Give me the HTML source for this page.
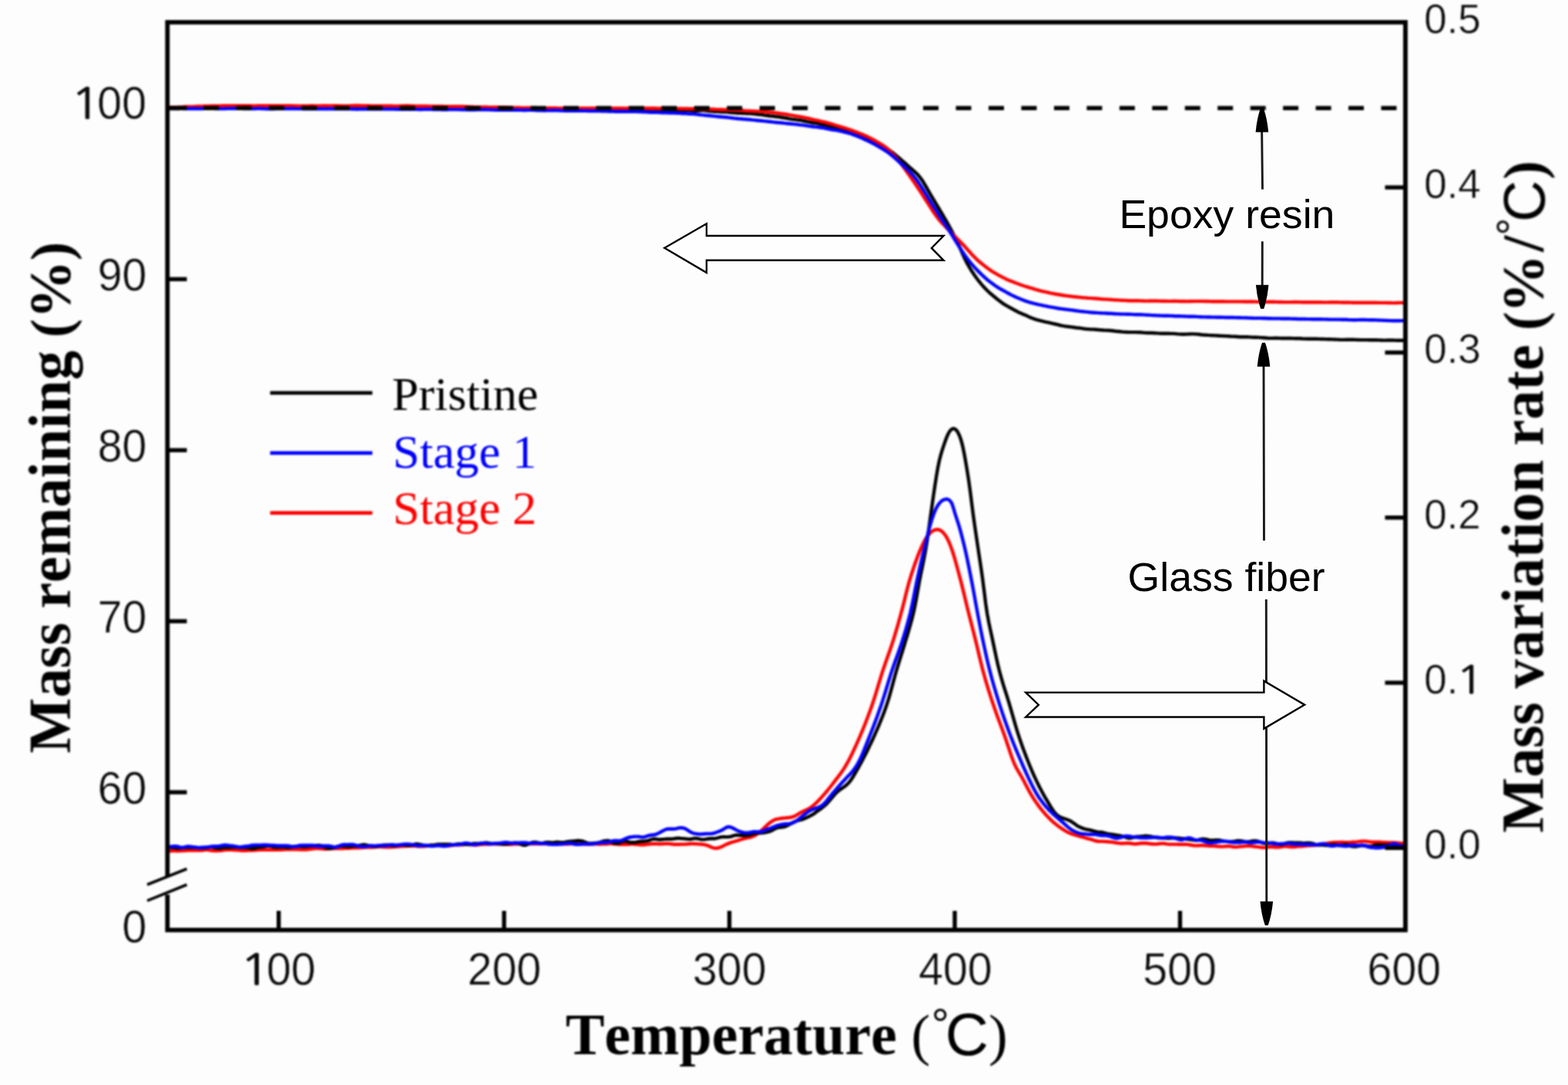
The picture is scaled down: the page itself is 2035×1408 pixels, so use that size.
<!DOCTYPE html>
<html lang="en"><head><meta charset="utf-8"><title>TGA / DTG curves</title>
<style>
html,body{margin:0;padding:0;background:#fdfdfd;}
body{width:2035px;height:1408px;overflow:hidden;}
svg{display:block;}
text{font-kerning:none;}
.sans{font-family:"Liberation Sans",Arial,Helvetica,sans-serif;font-weight:normal;}
.serif{font-family:"Liberation Serif","Times New Roman",Times,serif;}
.tick{fill:#0a0a0a;stroke:#fdfdfd;stroke-width:0.5px;}
.one{font-family:"NanumGothic","Liberation Sans",sans-serif;stroke:#0a0a0a;stroke-linejoin:miter;}
.title{font-weight:bold;fill:#000;}
.ann{fill:#000;}
.curve{fill:none;stroke-width:4.4;stroke-linejoin:round;stroke-linecap:butt;}
</style></head><body>
<svg xmlns="http://www.w3.org/2000/svg" width="2035" height="1408" viewBox="0 0 2035 1408">
<defs>
<filter id="soft" filterUnits="userSpaceOnUse" x="0" y="0" width="2035" height="1408" color-interpolation-filters="sRGB"><feGaussianBlur stdDeviation="0.85"/></filter>
<filter id="soft2" filterUnits="userSpaceOnUse" x="0" y="0" width="2035" height="1408" color-interpolation-filters="sRGB"><feGaussianBlur stdDeviation="0.5"/></filter>
</defs>
<rect x="0" y="0" width="2035" height="1408" fill="#fdfdfd"/>
<g id="plot" filter="url(#soft)">
<clipPath id="clip"><rect x="217.3" y="28.9" width="1606.7" height="1178.0"/></clipPath>
<g clip-path="url(#clip)">
<path class="curve" stroke="#ff0000" d="M217.3,1104.3 L219.3,1104.3 L221.3,1104.2 L223.3,1104.2 L225.3,1104.1 L227.3,1104.1 L229.3,1104.2 L231.3,1104.2 L233.3,1104.1 L235.3,1104.1 L237.3,1104.0 L239.3,1103.8 L241.3,1103.7 L243.3,1103.6 L245.3,1103.6 L247.3,1103.6 L249.3,1103.5 L251.3,1103.5 L253.3,1103.5 L255.3,1103.5 L257.3,1103.6 L259.3,1103.6 L261.3,1103.5 L263.3,1103.2 L265.3,1103.0 L267.3,1102.8 L269.3,1102.9 L271.3,1103.2 L273.3,1103.5 L275.3,1103.8 L277.3,1104.0 L279.3,1104.1 L281.3,1104.1 L283.3,1104.1 L285.3,1103.9 L287.3,1103.7 L289.3,1103.4 L291.3,1103.1 L293.3,1102.9 L295.3,1102.8 L297.3,1102.8 L299.3,1102.8 L301.3,1102.9 L303.3,1103.0 L305.3,1103.1 L307.3,1103.3 L309.3,1103.4 L311.3,1103.6 L313.3,1103.7 L315.3,1103.7 L317.3,1103.7 L319.3,1103.7 L321.3,1103.6 L323.3,1103.6 L325.3,1103.5 L327.3,1103.5 L329.3,1103.4 L331.3,1103.2 L333.3,1103.1 L335.3,1103.0 L337.3,1102.9 L339.3,1102.8 L341.3,1102.7 L343.3,1102.7 L345.3,1102.7 L347.3,1102.7 L349.3,1102.8 L351.3,1102.8 L353.3,1102.8 L355.3,1102.8 L357.3,1102.8 L359.3,1102.8 L361.3,1102.8 L363.3,1102.8 L365.3,1102.7 L367.3,1102.6 L369.3,1102.4 L371.3,1102.3 L373.3,1102.2 L375.3,1102.2 L377.3,1102.2 L379.3,1102.2 L381.3,1102.1 L383.3,1102.2 L385.3,1102.3 L387.3,1102.4 L389.3,1102.5 L391.3,1102.5 L393.3,1102.6 L395.3,1102.6 L397.3,1102.5 L399.3,1102.3 L401.3,1102.1 L403.3,1101.8 L405.3,1101.5 L407.3,1101.3 L409.3,1101.1 L411.3,1101.1 L413.3,1101.1 L415.3,1101.3 L417.3,1101.4 L419.3,1101.6 L421.3,1101.7 L423.3,1101.7 L425.3,1101.6 L427.3,1101.5 L429.3,1101.3 L431.3,1101.2 L433.3,1101.1 L435.3,1101.1 L437.3,1101.1 L439.3,1101.1 L441.3,1101.1 L443.3,1101.1 L445.3,1101.0 L447.3,1100.9 L449.3,1100.8 L451.3,1100.7 L453.3,1100.7 L455.3,1100.6 L457.3,1100.4 L459.3,1100.3 L461.3,1100.2 L463.3,1100.3 L465.3,1100.2 L467.3,1100.1 L469.3,1100.0 L471.3,1099.8 L473.3,1099.7 L475.3,1099.6 L477.3,1099.6 L479.3,1099.6 L481.3,1099.6 L483.3,1099.5 L485.3,1099.3 L487.3,1099.1 L489.3,1099.0 L491.3,1098.9 L493.3,1098.9 L495.3,1099.0 L497.3,1099.1 L499.3,1099.2 L501.3,1099.3 L503.3,1099.3 L505.3,1099.3 L507.3,1099.2 L509.3,1099.1 L511.3,1099.0 L513.3,1098.8 L515.3,1098.7 L517.3,1098.5 L519.3,1098.3 L521.3,1098.2 L523.3,1098.1 L525.3,1098.1 L527.3,1098.1 L529.3,1097.9 L531.3,1097.8 L533.3,1097.7 L535.3,1097.7 L537.3,1097.8 L539.3,1097.9 L541.3,1098.0 L543.3,1098.2 L545.3,1098.3 L547.3,1098.4 L549.3,1098.3 L551.3,1098.1 L553.3,1097.8 L555.3,1097.6 L557.3,1097.5 L559.3,1097.4 L561.3,1097.2 L563.3,1097.1 L565.3,1097.1 L567.3,1097.0 L569.3,1097.1 L571.3,1097.3 L573.3,1097.4 L575.3,1097.6 L577.3,1097.7 L579.3,1097.7 L581.3,1097.6 L583.3,1097.5 L585.3,1097.2 L587.3,1096.8 L589.3,1096.5 L591.3,1096.3 L593.3,1096.2 L595.3,1096.2 L597.3,1096.2 L599.3,1096.2 L601.3,1096.0 L603.3,1095.8 L605.3,1095.7 L607.3,1095.8 L609.3,1096.0 L611.3,1096.2 L613.3,1096.3 L615.3,1096.5 L617.3,1096.5 L619.3,1096.4 L621.3,1096.2 L623.3,1095.9 L625.3,1095.7 L627.3,1095.6 L629.3,1095.5 L631.3,1095.5 L633.3,1095.5 L635.3,1095.5 L637.3,1095.4 L639.3,1095.4 L641.3,1095.3 L643.3,1095.2 L645.3,1095.2 L647.3,1095.2 L649.3,1095.3 L651.3,1095.5 L653.3,1095.6 L655.3,1095.8 L657.3,1095.9 L659.3,1095.9 L661.3,1095.8 L663.3,1095.7 L665.3,1095.5 L667.3,1095.4 L669.3,1095.3 L671.3,1095.3 L673.3,1095.4 L675.3,1095.4 L677.3,1095.4 L679.3,1095.4 L681.3,1095.3 L683.3,1095.2 L685.3,1095.1 L687.3,1095.1 L689.3,1095.0 L691.3,1095.0 L693.3,1095.0 L695.3,1094.9 L697.3,1095.0 L699.3,1095.0 L701.3,1095.1 L703.3,1095.1 L705.3,1095.1 L707.3,1095.1 L709.3,1095.1 L711.3,1095.1 L713.3,1095.2 L715.3,1095.3 L717.3,1095.3 L719.3,1095.4 L721.3,1095.4 L723.3,1095.4 L725.3,1095.4 L727.3,1095.4 L729.3,1095.4 L731.3,1095.4 L733.3,1095.4 L735.3,1095.4 L737.3,1095.3 L739.3,1095.1 L741.3,1095.0 L743.3,1095.0 L745.3,1095.0 L747.3,1095.1 L749.3,1095.3 L751.3,1095.4 L753.3,1095.4 L755.3,1095.4 L757.3,1095.3 L759.3,1095.4 L761.3,1095.5 L763.3,1095.5 L765.3,1095.6 L767.3,1095.5 L769.3,1095.5 L771.3,1095.4 L773.3,1095.4 L775.3,1095.4 L777.3,1095.5 L779.3,1095.5 L781.3,1095.4 L783.3,1095.4 L785.3,1095.3 L787.3,1095.2 L789.3,1095.1 L791.3,1094.9 L793.3,1094.9 L795.3,1095.0 L797.3,1095.2 L799.3,1095.4 L801.3,1095.6 L803.3,1095.8 L805.3,1095.8 L807.3,1095.8 L809.3,1095.9 L811.3,1095.9 L813.3,1095.8 L815.3,1095.7 L817.3,1095.6 L819.3,1095.4 L821.3,1095.4 L823.3,1095.5 L825.3,1095.7 L827.3,1095.9 L829.3,1096.1 L831.3,1096.2 L833.3,1096.2 L835.3,1096.2 L837.3,1096.1 L839.3,1095.8 L841.3,1095.6 L843.3,1095.3 L845.3,1095.1 L847.3,1095.0 L849.3,1095.0 L851.3,1095.0 L853.3,1095.1 L855.3,1095.2 L857.3,1095.2 L859.3,1095.1 L861.3,1095.0 L863.3,1094.9 L865.3,1094.8 L867.3,1094.9 L869.3,1095.0 L871.3,1095.2 L873.3,1095.5 L875.3,1095.7 L877.3,1095.8 L879.3,1095.8 L881.3,1095.7 L883.3,1095.6 L885.3,1095.6 L887.3,1095.6 L889.3,1095.5 L891.3,1095.4 L893.3,1095.2 L895.3,1095.0 L897.3,1094.9 L899.3,1094.9 L901.3,1095.0 L903.3,1095.1 L905.3,1095.3 L907.3,1095.4 L909.3,1095.5 L911.3,1095.7 L913.3,1095.9 L915.3,1096.3 L917.3,1096.9 L919.3,1097.7 L921.3,1098.6 L923.3,1099.5 L925.3,1100.2 L927.3,1100.6 L929.3,1100.7 L931.3,1100.5 L933.3,1100.0 L935.3,1099.3 L937.3,1098.5 L939.3,1097.4 L941.3,1096.4 L943.3,1095.4 L945.3,1094.6 L947.3,1093.8 L949.3,1093.2 L951.3,1092.6 L953.3,1092.0 L955.3,1091.4 L957.3,1090.8 L959.3,1090.2 L961.3,1089.5 L963.3,1088.9 L965.3,1088.3 L967.3,1087.9 L969.3,1087.4 L971.3,1087.0 L973.3,1086.5 L975.3,1086.0 L977.3,1085.3 L979.3,1084.3 L981.3,1083.2 L983.3,1081.8 L985.3,1080.2 L987.3,1078.5 L989.3,1076.6 L991.3,1074.8 L993.3,1072.9 L995.3,1071.0 L997.3,1069.2 L999.3,1067.5 L1001.3,1066.1 L1003.3,1064.9 L1005.3,1063.9 L1007.3,1063.2 L1009.3,1062.8 L1011.3,1062.4 L1013.3,1062.1 L1015.3,1061.8 L1017.3,1061.6 L1019.3,1061.4 L1021.3,1061.2 L1023.3,1061.1 L1025.3,1060.8 L1027.3,1060.5 L1029.3,1059.9 L1031.3,1059.1 L1033.3,1058.0 L1035.3,1056.8 L1037.3,1055.5 L1039.3,1054.4 L1041.3,1053.3 L1043.3,1052.4 L1045.3,1051.5 L1047.3,1050.6 L1049.3,1049.6 L1051.3,1048.4 L1053.3,1047.0 L1055.3,1045.4 L1057.3,1043.7 L1059.3,1041.9 L1061.3,1039.9 L1063.3,1037.8 L1065.3,1035.7 L1067.3,1033.4 L1069.3,1031.2 L1071.3,1028.8 L1073.3,1026.5 L1075.3,1024.0 L1077.3,1021.5 L1079.3,1019.0 L1081.3,1016.4 L1083.3,1013.8 L1085.3,1011.2 L1087.3,1008.6 L1089.3,1005.9 L1091.3,1003.2 L1093.3,1000.4 L1095.3,997.4 L1097.3,994.1 L1099.3,990.7 L1101.3,987.1 L1103.3,983.2 L1105.3,979.2 L1107.3,975.0 L1109.3,970.7 L1111.3,966.3 L1113.3,961.8 L1115.3,957.3 L1117.3,952.6 L1119.3,947.9 L1121.3,943.0 L1123.3,938.0 L1125.3,932.8 L1127.3,927.5 L1129.3,922.0 L1131.3,916.4 L1133.3,910.5 L1135.3,904.4 L1137.3,897.9 L1139.3,891.2 L1141.3,884.6 L1143.3,878.0 L1145.3,871.7 L1147.3,865.7 L1149.3,859.9 L1151.3,854.2 L1153.3,848.6 L1155.3,842.9 L1157.3,837.0 L1159.3,830.9 L1161.3,824.4 L1163.3,817.7 L1165.3,810.8 L1167.3,803.7 L1169.3,796.4 L1171.3,788.9 L1173.3,781.0 L1175.3,772.8 L1177.3,764.8 L1179.3,757.3 L1181.3,750.4 L1183.3,744.0 L1185.3,737.9 L1187.3,732.0 L1189.3,726.4 L1191.3,721.1 L1193.3,716.1 L1195.3,711.4 L1197.3,707.0 L1199.3,702.9 L1201.3,699.3 L1203.3,696.3 L1205.3,693.7 L1207.3,691.5 L1209.3,689.8 L1211.3,688.5 L1213.3,687.6 L1215.3,687.2 L1217.3,687.2 L1219.3,687.7 L1221.3,688.8 L1223.3,690.4 L1225.3,692.5 L1227.3,695.2 L1229.3,698.7 L1231.3,702.7 L1233.3,707.5 L1235.3,712.9 L1237.3,719.0 L1239.3,725.7 L1241.3,732.8 L1243.3,740.2 L1245.3,747.8 L1247.3,755.4 L1249.3,763.4 L1251.3,771.6 L1253.3,779.9 L1255.3,788.2 L1257.3,796.2 L1259.3,804.1 L1261.3,811.9 L1263.3,819.7 L1265.3,827.6 L1267.3,835.8 L1269.3,844.2 L1271.3,852.8 L1273.3,861.1 L1275.3,868.9 L1277.3,876.3 L1279.3,883.3 L1281.3,890.0 L1283.3,896.6 L1285.3,902.9 L1287.3,909.0 L1289.3,915.0 L1291.3,920.8 L1293.3,926.4 L1295.3,931.9 L1297.3,937.3 L1299.3,942.6 L1301.3,948.0 L1303.3,953.5 L1305.3,959.3 L1307.3,965.2 L1309.3,971.3 L1311.3,977.3 L1313.3,983.0 L1315.3,988.3 L1317.3,993.0 L1319.3,997.0 L1321.3,1000.5 L1323.3,1003.9 L1325.3,1007.2 L1327.3,1010.8 L1329.3,1014.5 L1331.3,1018.4 L1333.3,1022.2 L1335.3,1026.0 L1337.3,1029.6 L1339.3,1033.0 L1341.3,1036.1 L1343.3,1039.2 L1345.3,1042.1 L1347.3,1044.9 L1349.3,1047.6 L1351.3,1050.2 L1353.3,1052.6 L1355.3,1054.9 L1357.3,1057.2 L1359.3,1059.3 L1361.3,1061.4 L1363.3,1063.4 L1365.3,1065.3 L1367.3,1067.1 L1369.3,1068.8 L1371.3,1070.4 L1373.3,1072.0 L1375.3,1073.4 L1377.3,1074.8 L1379.3,1076.1 L1381.3,1077.4 L1383.3,1078.6 L1385.3,1079.7 L1387.3,1080.7 L1389.3,1081.6 L1391.3,1082.3 L1393.3,1083.0 L1395.3,1083.6 L1397.3,1084.2 L1399.3,1084.7 L1401.3,1085.3 L1403.3,1085.8 L1405.3,1086.4 L1407.3,1087.0 L1409.3,1087.6 L1411.3,1088.2 L1413.3,1088.7 L1415.3,1089.2 L1417.3,1089.7 L1419.3,1090.4 L1421.3,1091.0 L1423.3,1091.5 L1425.3,1091.8 L1427.3,1091.9 L1429.3,1091.9 L1431.3,1091.9 L1433.3,1092.0 L1435.3,1092.1 L1437.3,1092.3 L1439.3,1092.5 L1441.3,1092.6 L1443.3,1092.8 L1445.3,1093.1 L1447.3,1093.5 L1449.3,1093.8 L1451.3,1094.1 L1453.3,1094.4 L1455.3,1094.5 L1457.3,1094.5 L1459.3,1094.4 L1461.3,1094.2 L1463.3,1094.1 L1465.3,1094.2 L1467.3,1094.5 L1469.3,1094.8 L1471.3,1095.1 L1473.3,1095.2 L1475.3,1095.0 L1477.3,1094.8 L1479.3,1094.5 L1481.3,1094.3 L1483.3,1094.2 L1485.3,1094.2 L1487.3,1094.3 L1489.3,1094.5 L1491.3,1094.7 L1493.3,1095.0 L1495.3,1095.2 L1497.3,1095.4 L1499.3,1095.4 L1501.3,1095.3 L1503.3,1095.1 L1505.3,1094.8 L1507.3,1094.6 L1509.3,1094.6 L1511.3,1094.7 L1513.3,1095.1 L1515.3,1095.4 L1517.3,1095.6 L1519.3,1095.6 L1521.3,1095.6 L1523.3,1095.6 L1525.3,1095.6 L1527.3,1095.6 L1529.3,1095.7 L1531.3,1095.8 L1533.3,1095.8 L1535.3,1095.8 L1537.3,1095.8 L1539.3,1095.8 L1541.3,1095.9 L1543.3,1096.2 L1545.3,1096.5 L1547.3,1096.9 L1549.3,1097.3 L1551.3,1097.4 L1553.3,1097.4 L1555.3,1097.2 L1557.3,1097.1 L1559.3,1097.0 L1561.3,1097.0 L1563.3,1097.2 L1565.3,1097.4 L1567.3,1097.6 L1569.3,1097.7 L1571.3,1097.8 L1573.3,1097.9 L1575.3,1097.9 L1577.3,1098.0 L1579.3,1098.2 L1581.3,1098.4 L1583.3,1098.5 L1585.3,1098.6 L1587.3,1098.6 L1589.3,1098.4 L1591.3,1098.2 L1593.3,1098.1 L1595.3,1098.1 L1597.3,1098.3 L1599.3,1098.7 L1601.3,1099.0 L1603.3,1099.1 L1605.3,1099.1 L1607.3,1098.9 L1609.3,1098.6 L1611.3,1098.4 L1613.3,1098.2 L1615.3,1098.1 L1617.3,1097.9 L1619.3,1097.8 L1621.3,1097.8 L1623.3,1097.9 L1625.3,1098.2 L1627.3,1098.4 L1629.3,1098.7 L1631.3,1098.9 L1633.3,1099.1 L1635.3,1099.4 L1637.3,1099.7 L1639.3,1099.9 L1641.3,1099.9 L1643.3,1099.7 L1645.3,1099.4 L1647.3,1099.1 L1649.3,1099.0 L1651.3,1099.1 L1653.3,1099.2 L1655.3,1099.4 L1657.3,1099.5 L1659.3,1099.4 L1661.3,1099.2 L1663.3,1098.9 L1665.3,1098.6 L1667.3,1098.4 L1669.3,1098.4 L1671.3,1098.6 L1673.3,1098.9 L1675.3,1099.1 L1677.3,1099.1 L1679.3,1099.0 L1681.3,1098.8 L1683.3,1098.5 L1685.3,1098.4 L1687.3,1098.3 L1689.3,1098.2 L1691.3,1098.0 L1693.3,1097.8 L1695.3,1097.6 L1697.3,1097.4 L1699.3,1097.2 L1701.3,1097.2 L1703.3,1097.1 L1705.3,1097.1 L1707.3,1096.9 L1709.3,1096.5 L1711.3,1096.0 L1713.3,1095.5 L1715.3,1095.1 L1717.3,1094.9 L1719.3,1094.8 L1721.3,1094.6 L1723.3,1094.3 L1725.3,1094.0 L1727.3,1093.7 L1729.3,1093.5 L1731.3,1093.3 L1733.3,1093.2 L1735.3,1093.1 L1737.3,1093.1 L1739.3,1093.0 L1741.3,1093.0 L1743.3,1093.0 L1745.3,1093.1 L1747.3,1093.1 L1749.3,1093.2 L1751.3,1093.1 L1753.3,1093.0 L1755.3,1092.8 L1757.3,1092.7 L1759.3,1092.6 L1761.3,1092.4 L1763.3,1092.1 L1765.3,1091.9 L1767.3,1091.7 L1769.3,1091.6 L1771.3,1091.6 L1773.3,1091.8 L1775.3,1092.1 L1777.3,1092.4 L1779.3,1092.7 L1781.3,1092.8 L1783.3,1092.8 L1785.3,1092.7 L1787.3,1092.6 L1789.3,1092.6 L1791.3,1092.8 L1793.3,1093.0 L1795.3,1093.1 L1797.3,1093.1 L1799.3,1093.3 L1801.3,1093.4 L1803.3,1093.5 L1805.3,1093.5 L1807.3,1093.5 L1809.3,1093.4 L1811.3,1093.6 L1813.3,1093.8 L1815.3,1094.1 L1817.3,1094.3 L1819.3,1094.5 L1821.3,1094.7 L1823.3,1094.8"/>
<path class="curve" stroke="#000000" d="M217.3,1099.5 L219.3,1099.4 L221.3,1099.5 L223.3,1099.7 L225.3,1100.0 L227.3,1100.4 L229.3,1100.6 L231.3,1100.7 L233.3,1100.5 L235.3,1100.3 L237.3,1100.1 L239.3,1099.9 L241.3,1099.7 L243.3,1099.7 L245.3,1099.7 L247.3,1099.8 L249.3,1099.8 L251.3,1099.8 L253.3,1099.8 L255.3,1100.0 L257.3,1100.1 L259.3,1100.3 L261.3,1100.4 L263.3,1100.4 L265.3,1100.3 L267.3,1100.1 L269.3,1099.7 L271.3,1099.2 L273.3,1099.0 L275.3,1099.1 L277.3,1099.6 L279.3,1100.3 L281.3,1100.7 L283.3,1100.9 L285.3,1100.7 L287.3,1100.4 L289.3,1100.1 L291.3,1099.9 L293.3,1099.7 L295.3,1099.7 L297.3,1099.7 L299.3,1099.6 L301.3,1099.4 L303.3,1099.3 L305.3,1099.3 L307.3,1099.5 L309.3,1099.6 L311.3,1099.7 L313.3,1099.7 L315.3,1099.7 L317.3,1099.7 L319.3,1099.9 L321.3,1100.2 L323.3,1100.6 L325.3,1100.9 L327.3,1101.1 L329.3,1101.0 L331.3,1100.5 L333.3,1100.0 L335.3,1099.5 L337.3,1099.2 L339.3,1099.0 L341.3,1098.8 L343.3,1098.5 L345.3,1098.1 L347.3,1097.7 L349.3,1097.6 L351.3,1097.9 L353.3,1098.6 L355.3,1099.2 L357.3,1099.6 L359.3,1099.6 L361.3,1099.4 L363.3,1099.2 L365.3,1099.0 L367.3,1099.1 L369.3,1099.3 L371.3,1099.6 L373.3,1099.7 L375.3,1099.6 L377.3,1099.4 L379.3,1099.1 L381.3,1098.8 L383.3,1098.5 L385.3,1098.3 L387.3,1098.2 L389.3,1098.3 L391.3,1098.5 L393.3,1098.6 L395.3,1098.7 L397.3,1098.6 L399.3,1098.3 L401.3,1098.0 L403.3,1097.8 L405.3,1097.6 L407.3,1097.5 L409.3,1097.3 L411.3,1097.1 L413.3,1097.0 L415.3,1097.2 L417.3,1097.6 L419.3,1098.4 L421.3,1099.3 L423.3,1100.1 L425.3,1100.7 L427.3,1100.9 L429.3,1100.7 L431.3,1100.3 L433.3,1099.8 L435.3,1099.3 L437.3,1098.7 L439.3,1098.2 L441.3,1097.9 L443.3,1097.8 L445.3,1097.9 L447.3,1098.1 L449.3,1098.4 L451.3,1098.5 L453.3,1098.4 L455.3,1098.2 L457.3,1098.0 L459.3,1097.8 L461.3,1097.8 L463.3,1097.7 L465.3,1097.4 L467.3,1097.0 L469.3,1096.6 L471.3,1096.3 L473.3,1096.3 L475.3,1096.6 L477.3,1097.1 L479.3,1097.6 L481.3,1097.9 L483.3,1098.1 L485.3,1098.2 L487.3,1098.2 L489.3,1098.2 L491.3,1097.9 L493.3,1097.5 L495.3,1097.0 L497.3,1096.7 L499.3,1096.6 L501.3,1096.5 L503.3,1096.6 L505.3,1096.7 L507.3,1097.0 L509.3,1097.2 L511.3,1097.4 L513.3,1097.4 L515.3,1097.1 L517.3,1096.8 L519.3,1096.5 L521.3,1096.3 L523.3,1096.4 L525.3,1096.6 L527.3,1096.8 L529.3,1097.0 L531.3,1097.0 L533.3,1096.8 L535.3,1096.3 L537.3,1095.8 L539.3,1095.4 L541.3,1095.3 L543.3,1095.6 L545.3,1096.0 L547.3,1096.5 L549.3,1097.0 L551.3,1097.2 L553.3,1097.3 L555.3,1097.1 L557.3,1096.9 L559.3,1096.7 L561.3,1096.6 L563.3,1096.5 L565.3,1096.3 L567.3,1096.0 L569.3,1095.7 L571.3,1095.6 L573.3,1095.6 L575.3,1095.6 L577.3,1095.6 L579.3,1095.6 L581.3,1095.6 L583.3,1095.8 L585.3,1096.0 L587.3,1096.2 L589.3,1096.1 L591.3,1095.8 L593.3,1095.4 L595.3,1095.2 L597.3,1095.2 L599.3,1095.3 L601.3,1095.5 L603.3,1095.7 L605.3,1095.9 L607.3,1095.9 L609.3,1095.7 L611.3,1095.4 L613.3,1095.0 L615.3,1094.8 L617.3,1094.8 L619.3,1094.8 L621.3,1094.9 L623.3,1094.9 L625.3,1094.6 L627.3,1094.1 L629.3,1093.7 L631.3,1093.6 L633.3,1093.9 L635.3,1094.3 L637.3,1094.7 L639.3,1094.9 L641.3,1094.9 L643.3,1094.9 L645.3,1094.9 L647.3,1095.0 L649.3,1095.1 L651.3,1095.3 L653.3,1095.4 L655.3,1095.4 L657.3,1095.3 L659.3,1094.9 L661.3,1094.4 L663.3,1094.1 L665.3,1093.9 L667.3,1093.8 L669.3,1093.8 L671.3,1094.1 L673.3,1094.5 L675.3,1095.3 L677.3,1096.1 L679.3,1096.7 L681.3,1096.8 L683.3,1096.3 L685.3,1095.4 L687.3,1094.5 L689.3,1093.7 L691.3,1093.1 L693.3,1092.9 L695.3,1093.0 L697.3,1093.4 L699.3,1093.8 L701.3,1094.1 L703.3,1094.2 L705.3,1093.9 L707.3,1093.5 L709.3,1093.1 L711.3,1093.0 L713.3,1093.2 L715.3,1093.4 L717.3,1093.5 L719.3,1093.3 L721.3,1093.0 L723.3,1092.8 L725.3,1092.9 L727.3,1093.1 L729.3,1093.3 L731.3,1093.2 L733.3,1092.9 L735.3,1092.5 L737.3,1092.2 L739.3,1091.9 L741.3,1091.7 L743.3,1091.6 L745.3,1091.4 L747.3,1091.2 L749.3,1091.0 L751.3,1090.9 L753.3,1091.1 L755.3,1091.4 L757.3,1092.1 L759.3,1092.9 L761.3,1093.6 L763.3,1094.1 L765.3,1094.4 L767.3,1094.4 L769.3,1094.3 L771.3,1094.1 L773.3,1093.9 L775.3,1093.7 L777.3,1093.3 L779.3,1092.8 L781.3,1092.1 L783.3,1091.5 L785.3,1091.1 L787.3,1090.9 L789.3,1091.0 L791.3,1091.5 L793.3,1092.3 L795.3,1093.2 L797.3,1094.0 L799.3,1094.4 L801.3,1094.3 L803.3,1093.8 L805.3,1093.1 L807.3,1092.3 L809.3,1091.7 L811.3,1091.6 L813.3,1091.9 L815.3,1092.5 L817.3,1093.0 L819.3,1093.2 L821.3,1093.2 L823.3,1093.1 L825.3,1092.9 L827.3,1092.5 L829.3,1092.2 L831.3,1091.9 L833.3,1091.7 L835.3,1091.7 L837.3,1091.6 L839.3,1091.3 L841.3,1090.8 L843.3,1090.2 L845.3,1089.5 L847.3,1088.9 L849.3,1088.7 L851.3,1088.9 L853.3,1089.2 L855.3,1089.5 L857.3,1089.5 L859.3,1089.3 L861.3,1089.1 L863.3,1088.9 L865.3,1088.8 L867.3,1088.8 L869.3,1088.8 L871.3,1088.8 L873.3,1088.6 L875.3,1088.3 L877.3,1088.0 L879.3,1087.8 L881.3,1087.8 L883.3,1088.0 L885.3,1088.1 L887.3,1088.3 L889.3,1088.4 L891.3,1088.7 L893.3,1088.9 L895.3,1089.0 L897.3,1088.8 L899.3,1088.4 L901.3,1088.0 L903.3,1088.0 L905.3,1088.2 L907.3,1088.7 L909.3,1089.2 L911.3,1089.4 L913.3,1089.4 L915.3,1089.2 L917.3,1088.8 L919.3,1088.5 L921.3,1088.3 L923.3,1088.3 L925.3,1088.3 L927.3,1088.2 L929.3,1087.9 L931.3,1087.4 L933.3,1086.8 L935.3,1086.3 L937.3,1086.1 L939.3,1086.0 L941.3,1086.1 L943.3,1086.1 L945.3,1086.1 L947.3,1085.8 L949.3,1085.3 L951.3,1084.6 L953.3,1084.1 L955.3,1083.8 L957.3,1083.8 L959.3,1083.9 L961.3,1084.0 L963.3,1084.1 L965.3,1084.2 L967.3,1084.3 L969.3,1084.2 L971.3,1083.8 L973.3,1083.3 L975.3,1082.6 L977.3,1082.1 L979.3,1081.6 L981.3,1081.3 L983.3,1081.1 L985.3,1081.0 L987.3,1081.0 L989.3,1080.9 L991.3,1080.6 L993.3,1080.3 L995.3,1079.8 L997.3,1079.4 L999.3,1078.8 L1001.3,1078.0 L1003.3,1076.9 L1005.3,1075.7 L1007.3,1074.7 L1009.3,1074.1 L1011.3,1073.8 L1013.3,1073.6 L1015.3,1073.4 L1017.3,1073.1 L1019.3,1072.4 L1021.3,1071.6 L1023.3,1070.6 L1025.3,1069.5 L1027.3,1068.3 L1029.3,1067.2 L1031.3,1066.3 L1033.3,1065.5 L1035.3,1064.9 L1037.3,1064.3 L1039.3,1063.9 L1041.3,1063.3 L1043.3,1062.6 L1045.3,1061.7 L1047.3,1060.8 L1049.3,1059.9 L1051.3,1058.9 L1053.3,1057.8 L1055.3,1056.6 L1057.3,1055.3 L1059.3,1053.8 L1061.3,1052.3 L1063.3,1050.9 L1065.3,1049.4 L1067.3,1047.9 L1069.3,1046.3 L1071.3,1044.6 L1073.3,1042.6 L1075.3,1040.4 L1077.3,1038.0 L1079.3,1035.7 L1081.3,1033.3 L1083.3,1031.0 L1085.3,1028.9 L1087.3,1027.1 L1089.3,1025.4 L1091.3,1023.9 L1093.3,1022.6 L1095.3,1021.2 L1097.3,1019.7 L1099.3,1018.0 L1101.3,1016.0 L1103.3,1013.6 L1105.3,1010.8 L1107.3,1007.7 L1109.3,1004.3 L1111.3,1000.8 L1113.3,997.3 L1115.3,993.7 L1117.3,990.1 L1119.3,986.4 L1121.3,982.6 L1123.3,978.7 L1125.3,974.7 L1127.3,970.6 L1129.3,966.4 L1131.3,962.2 L1133.3,957.8 L1135.3,953.4 L1137.3,948.9 L1139.3,944.3 L1141.3,939.6 L1143.3,934.7 L1145.3,929.7 L1147.3,924.5 L1149.3,919.0 L1151.3,913.1 L1153.3,906.8 L1155.3,899.9 L1157.3,892.6 L1159.3,885.1 L1161.3,877.7 L1163.3,870.7 L1165.3,864.0 L1167.3,857.5 L1169.3,851.1 L1171.3,844.8 L1173.3,838.3 L1175.3,831.7 L1177.3,825.0 L1179.3,818.3 L1181.3,811.5 L1183.3,804.2 L1185.3,796.3 L1187.3,787.1 L1189.3,776.5 L1191.3,765.1 L1193.3,754.0 L1195.3,743.8 L1197.3,734.2 L1199.3,724.4 L1201.3,713.7 L1203.3,701.3 L1205.3,687.3 L1207.3,672.9 L1209.3,658.6 L1211.3,644.3 L1213.3,630.7 L1215.3,617.9 L1217.3,606.2 L1219.3,596.8 L1221.3,589.1 L1223.3,582.6 L1225.3,576.6 L1227.3,570.9 L1229.3,565.7 L1231.3,561.6 L1233.3,558.6 L1235.3,556.8 L1237.3,556.2 L1239.3,556.7 L1241.3,558.3 L1243.3,561.3 L1245.3,565.5 L1247.3,571.1 L1249.3,578.6 L1251.3,588.2 L1253.3,599.3 L1255.3,611.1 L1257.3,624.0 L1259.3,638.5 L1261.3,654.5 L1263.3,669.9 L1265.3,684.0 L1267.3,697.6 L1269.3,711.0 L1271.3,724.4 L1273.3,737.7 L1275.3,751.7 L1277.3,767.4 L1279.3,783.5 L1281.3,796.8 L1283.3,807.6 L1285.3,817.1 L1287.3,826.3 L1289.3,835.7 L1291.3,845.3 L1293.3,854.6 L1295.3,863.4 L1297.3,871.5 L1299.3,878.9 L1301.3,885.8 L1303.3,892.3 L1305.3,898.6 L1307.3,904.9 L1309.3,911.4 L1311.3,918.2 L1313.3,925.2 L1315.3,932.2 L1317.3,939.2 L1319.3,945.9 L1321.3,952.3 L1323.3,958.4 L1325.3,964.2 L1327.3,969.9 L1329.3,975.3 L1331.3,980.6 L1333.3,985.8 L1335.3,990.8 L1337.3,995.7 L1339.3,1000.4 L1341.3,1005.0 L1343.3,1009.4 L1345.3,1013.6 L1347.3,1017.7 L1349.3,1021.7 L1351.3,1025.6 L1353.3,1029.3 L1355.3,1032.9 L1357.3,1036.3 L1359.3,1039.7 L1361.3,1043.0 L1363.3,1046.3 L1365.3,1049.5 L1367.3,1052.5 L1369.3,1055.0 L1371.3,1057.1 L1373.3,1058.7 L1375.3,1060.0 L1377.3,1060.9 L1379.3,1061.7 L1381.3,1062.4 L1383.3,1063.0 L1385.3,1063.7 L1387.3,1064.5 L1389.3,1065.4 L1391.3,1066.7 L1393.3,1068.1 L1395.3,1069.6 L1397.3,1071.1 L1399.3,1072.3 L1401.3,1073.3 L1403.3,1074.1 L1405.3,1074.9 L1407.3,1075.6 L1409.3,1076.1 L1411.3,1076.5 L1413.3,1076.9 L1415.3,1077.2 L1417.3,1077.8 L1419.3,1078.3 L1421.3,1078.9 L1423.3,1079.4 L1425.3,1079.7 L1427.3,1079.9 L1429.3,1080.0 L1431.3,1080.3 L1433.3,1080.8 L1435.3,1081.4 L1437.3,1081.9 L1439.3,1082.3 L1441.3,1082.6 L1443.3,1082.8 L1445.3,1083.1 L1447.3,1083.4 L1449.3,1083.8 L1451.3,1084.1 L1453.3,1084.5 L1455.3,1084.9 L1457.3,1085.4 L1459.3,1085.9 L1461.3,1086.6 L1463.3,1087.3 L1465.3,1087.7 L1467.3,1087.6 L1469.3,1087.1 L1471.3,1086.5 L1473.3,1086.0 L1475.3,1085.7 L1477.3,1085.6 L1479.3,1085.5 L1481.3,1085.4 L1483.3,1085.2 L1485.3,1085.0 L1487.3,1084.8 L1489.3,1084.9 L1491.3,1085.1 L1493.3,1085.4 L1495.3,1085.8 L1497.3,1086.3 L1499.3,1086.7 L1501.3,1087.1 L1503.3,1087.2 L1505.3,1087.3 L1507.3,1087.3 L1509.3,1087.4 L1511.3,1087.5 L1513.3,1087.6 L1515.3,1087.7 L1517.3,1087.7 L1519.3,1087.6 L1521.3,1087.5 L1523.3,1087.4 L1525.3,1087.3 L1527.3,1087.4 L1529.3,1087.6 L1531.3,1087.8 L1533.3,1088.1 L1535.3,1088.3 L1537.3,1088.5 L1539.3,1088.8 L1541.3,1089.0 L1543.3,1089.3 L1545.3,1089.5 L1547.3,1089.8 L1549.3,1090.2 L1551.3,1090.3 L1553.3,1090.2 L1555.3,1089.8 L1557.3,1089.4 L1559.3,1089.0 L1561.3,1088.8 L1563.3,1088.9 L1565.3,1089.2 L1567.3,1089.7 L1569.3,1090.2 L1571.3,1090.5 L1573.3,1090.5 L1575.3,1090.4 L1577.3,1090.2 L1579.3,1090.1 L1581.3,1090.2 L1583.3,1090.5 L1585.3,1090.9 L1587.3,1091.3 L1589.3,1091.7 L1591.3,1091.9 L1593.3,1092.1 L1595.3,1092.2 L1597.3,1092.2 L1599.3,1092.2 L1601.3,1091.9 L1603.3,1091.6 L1605.3,1091.3 L1607.3,1091.0 L1609.3,1091.1 L1611.3,1091.3 L1613.3,1091.7 L1615.3,1092.1 L1617.3,1092.4 L1619.3,1092.5 L1621.3,1092.3 L1623.3,1091.8 L1625.3,1091.4 L1627.3,1091.1 L1629.3,1091.1 L1631.3,1091.4 L1633.3,1092.0 L1635.3,1092.7 L1637.3,1093.4 L1639.3,1094.1 L1641.3,1094.5 L1643.3,1094.6 L1645.3,1094.5 L1647.3,1094.2 L1649.3,1093.9 L1651.3,1093.8 L1653.3,1093.9 L1655.3,1094.3 L1657.3,1094.8 L1659.3,1095.3 L1661.3,1095.7 L1663.3,1095.8 L1665.3,1095.4 L1667.3,1094.8 L1669.3,1094.2 L1671.3,1093.7 L1673.3,1093.5 L1675.3,1093.5 L1677.3,1093.5 L1679.3,1093.6 L1681.3,1093.6 L1683.3,1093.6 L1685.3,1093.6 L1687.3,1093.7 L1689.3,1093.9 L1691.3,1094.1 L1693.3,1094.1 L1695.3,1094.0 L1697.3,1093.9 L1699.3,1093.9 L1701.3,1094.1 L1703.3,1094.6 L1705.3,1095.2 L1707.3,1095.8 L1709.3,1096.3 L1711.3,1096.5 L1713.3,1096.5 L1715.3,1096.5 L1717.3,1096.6 L1719.3,1096.9 L1721.3,1097.0 L1723.3,1097.0 L1725.3,1096.7 L1727.3,1096.4 L1729.3,1096.3 L1731.3,1096.3 L1733.3,1096.5 L1735.3,1096.9 L1737.3,1097.2 L1739.3,1097.3 L1741.3,1097.0 L1743.3,1096.5 L1745.3,1096.1 L1747.3,1096.2 L1749.3,1096.6 L1751.3,1097.4 L1753.3,1098.0 L1755.3,1098.4 L1757.3,1098.6 L1759.3,1098.5 L1761.3,1098.3 L1763.3,1097.9 L1765.3,1097.5 L1767.3,1097.2 L1769.3,1097.1 L1771.3,1097.3 L1773.3,1097.6 L1775.3,1098.0 L1777.3,1098.3 L1779.3,1098.2 L1781.3,1097.8 L1783.3,1097.2 L1785.3,1096.6 L1787.3,1096.3 L1789.3,1096.2 L1791.3,1096.4 L1793.3,1096.5 L1795.3,1096.7 L1797.3,1096.7 L1799.3,1096.6 L1801.3,1096.5 L1803.3,1096.3 L1805.3,1096.2 L1807.3,1096.2 L1809.3,1096.2 L1811.3,1096.4 L1813.3,1096.7 L1815.3,1097.2 L1817.3,1097.8 L1819.3,1098.5 L1821.3,1099.0 L1823.3,1099.2"/>
<path class="curve" stroke="#0000ff" d="M217.3,1099.2 L219.3,1099.1 L221.3,1098.8 L223.3,1098.5 L225.3,1098.3 L227.3,1098.1 L229.3,1098.3 L231.3,1098.7 L233.3,1099.3 L235.3,1099.7 L237.3,1099.7 L239.3,1099.3 L241.3,1098.8 L243.3,1098.4 L245.3,1098.4 L247.3,1098.6 L249.3,1098.9 L251.3,1099.3 L253.3,1099.6 L255.3,1099.8 L257.3,1099.9 L259.3,1099.9 L261.3,1099.7 L263.3,1099.6 L265.3,1099.5 L267.3,1099.4 L269.3,1099.3 L271.3,1099.1 L273.3,1098.8 L275.3,1098.5 L277.3,1098.3 L279.3,1098.3 L281.3,1098.3 L283.3,1098.1 L285.3,1097.8 L287.3,1097.4 L289.3,1097.0 L291.3,1096.7 L293.3,1096.7 L295.3,1096.9 L297.3,1097.2 L299.3,1097.4 L301.3,1097.6 L303.3,1097.9 L305.3,1098.3 L307.3,1098.7 L309.3,1099.1 L311.3,1099.2 L313.3,1099.1 L315.3,1098.8 L317.3,1098.5 L319.3,1098.2 L321.3,1097.9 L323.3,1097.7 L325.3,1097.3 L327.3,1097.0 L329.3,1096.7 L331.3,1096.6 L333.3,1096.6 L335.3,1096.6 L337.3,1096.6 L339.3,1096.6 L341.3,1096.5 L343.3,1096.5 L345.3,1096.5 L347.3,1096.7 L349.3,1096.8 L351.3,1096.9 L353.3,1096.9 L355.3,1097.0 L357.3,1097.2 L359.3,1097.4 L361.3,1097.5 L363.3,1097.5 L365.3,1097.5 L367.3,1097.5 L369.3,1097.5 L371.3,1097.5 L373.3,1097.6 L375.3,1097.8 L377.3,1098.3 L379.3,1098.6 L381.3,1098.7 L383.3,1098.5 L385.3,1098.1 L387.3,1097.5 L389.3,1097.2 L391.3,1097.0 L393.3,1096.9 L395.3,1096.9 L397.3,1097.0 L399.3,1097.0 L401.3,1097.0 L403.3,1097.0 L405.3,1097.0 L407.3,1097.2 L409.3,1097.5 L411.3,1098.0 L413.3,1098.2 L415.3,1098.2 L417.3,1098.0 L419.3,1097.8 L421.3,1097.7 L423.3,1097.6 L425.3,1097.6 L427.3,1097.8 L429.3,1098.2 L431.3,1098.7 L433.3,1099.2 L435.3,1099.4 L437.3,1099.0 L439.3,1098.3 L441.3,1097.4 L443.3,1096.6 L445.3,1096.2 L447.3,1096.0 L449.3,1096.1 L451.3,1096.1 L453.3,1096.0 L455.3,1095.9 L457.3,1095.9 L459.3,1096.2 L461.3,1096.8 L463.3,1097.4 L465.3,1097.9 L467.3,1098.3 L469.3,1098.5 L471.3,1098.6 L473.3,1098.6 L475.3,1098.4 L477.3,1098.1 L479.3,1097.7 L481.3,1097.5 L483.3,1097.5 L485.3,1097.6 L487.3,1097.6 L489.3,1097.4 L491.3,1097.2 L493.3,1097.1 L495.3,1097.1 L497.3,1097.3 L499.3,1097.5 L501.3,1097.4 L503.3,1097.1 L505.3,1096.6 L507.3,1096.2 L509.3,1096.2 L511.3,1096.4 L513.3,1096.7 L515.3,1096.8 L517.3,1096.7 L519.3,1096.4 L521.3,1096.0 L523.3,1095.7 L525.3,1095.5 L527.3,1095.4 L529.3,1095.4 L531.3,1095.6 L533.3,1095.8 L535.3,1096.2 L537.3,1096.6 L539.3,1096.9 L541.3,1097.3 L543.3,1097.5 L545.3,1097.5 L547.3,1097.3 L549.3,1097.0 L551.3,1096.9 L553.3,1097.0 L555.3,1097.3 L557.3,1097.7 L559.3,1097.9 L561.3,1098.0 L563.3,1097.9 L565.3,1097.6 L567.3,1097.4 L569.3,1097.3 L571.3,1097.4 L573.3,1097.7 L575.3,1098.0 L577.3,1098.1 L579.3,1097.9 L581.3,1097.4 L583.3,1096.8 L585.3,1096.4 L587.3,1096.2 L589.3,1096.1 L591.3,1096.1 L593.3,1096.2 L595.3,1096.0 L597.3,1095.7 L599.3,1095.2 L601.3,1094.6 L603.3,1094.2 L605.3,1094.1 L607.3,1094.3 L609.3,1094.8 L611.3,1095.4 L613.3,1095.9 L615.3,1096.1 L617.3,1096.0 L619.3,1095.6 L621.3,1095.0 L623.3,1094.5 L625.3,1094.1 L627.3,1094.1 L629.3,1094.3 L631.3,1094.6 L633.3,1094.9 L635.3,1095.0 L637.3,1095.0 L639.3,1094.8 L641.3,1094.6 L643.3,1094.5 L645.3,1094.4 L647.3,1094.3 L649.3,1094.1 L651.3,1093.8 L653.3,1093.4 L655.3,1093.2 L657.3,1093.2 L659.3,1093.4 L661.3,1093.8 L663.3,1094.1 L665.3,1094.3 L667.3,1094.2 L669.3,1094.0 L671.3,1093.8 L673.3,1093.7 L675.3,1093.6 L677.3,1093.5 L679.3,1093.4 L681.3,1093.5 L683.3,1093.7 L685.3,1094.0 L687.3,1094.1 L689.3,1094.2 L691.3,1094.2 L693.3,1094.1 L695.3,1094.1 L697.3,1094.2 L699.3,1094.4 L701.3,1094.5 L703.3,1094.5 L705.3,1094.5 L707.3,1094.6 L709.3,1094.9 L711.3,1095.2 L713.3,1095.5 L715.3,1095.6 L717.3,1095.8 L719.3,1095.9 L721.3,1095.9 L723.3,1095.8 L725.3,1095.6 L727.3,1095.4 L729.3,1095.2 L731.3,1095.1 L733.3,1094.9 L735.3,1094.6 L737.3,1094.4 L739.3,1094.3 L741.3,1094.5 L743.3,1094.9 L745.3,1095.4 L747.3,1095.7 L749.3,1095.8 L751.3,1095.7 L753.3,1095.6 L755.3,1095.4 L757.3,1095.3 L759.3,1095.3 L761.3,1095.2 L763.3,1095.2 L765.3,1095.2 L767.3,1095.1 L769.3,1095.0 L771.3,1094.8 L773.3,1094.5 L775.3,1094.1 L777.3,1093.7 L779.3,1093.4 L781.3,1093.3 L783.3,1093.2 L785.3,1093.3 L787.3,1093.2 L789.3,1092.9 L791.3,1092.5 L793.3,1091.9 L795.3,1091.3 L797.3,1091.0 L799.3,1090.9 L801.3,1091.0 L803.3,1091.1 L805.3,1090.9 L807.3,1090.4 L809.3,1089.5 L811.3,1088.6 L813.3,1087.7 L815.3,1087.0 L817.3,1086.5 L819.3,1086.2 L821.3,1085.9 L823.3,1085.7 L825.3,1085.6 L827.3,1085.6 L829.3,1085.8 L831.3,1086.1 L833.3,1086.4 L835.3,1086.3 L837.3,1085.9 L839.3,1085.2 L841.3,1084.5 L843.3,1084.0 L845.3,1083.7 L847.3,1083.5 L849.3,1083.3 L851.3,1082.7 L853.3,1081.9 L855.3,1080.9 L857.3,1079.8 L859.3,1078.7 L861.3,1077.6 L863.3,1076.6 L865.3,1076.0 L867.3,1075.7 L869.3,1075.6 L871.3,1075.7 L873.3,1075.8 L875.3,1075.7 L877.3,1075.3 L879.3,1074.8 L881.3,1074.4 L883.3,1074.2 L885.3,1074.3 L887.3,1074.7 L889.3,1075.4 L891.3,1076.5 L893.3,1077.9 L895.3,1079.2 L897.3,1080.3 L899.3,1081.1 L901.3,1081.6 L903.3,1081.9 L905.3,1082.2 L907.3,1082.4 L909.3,1082.5 L911.3,1082.4 L913.3,1082.2 L915.3,1082.0 L917.3,1081.9 L919.3,1081.9 L921.3,1081.9 L923.3,1081.8 L925.3,1081.5 L927.3,1081.0 L929.3,1080.3 L931.3,1079.5 L933.3,1078.8 L935.3,1078.0 L937.3,1077.0 L939.3,1075.8 L941.3,1074.5 L943.3,1073.5 L945.3,1073.0 L947.3,1073.1 L949.3,1073.8 L951.3,1074.7 L953.3,1075.8 L955.3,1076.9 L957.3,1077.9 L959.3,1078.8 L961.3,1079.5 L963.3,1080.0 L965.3,1080.4 L967.3,1080.6 L969.3,1080.7 L971.3,1080.5 L973.3,1080.2 L975.3,1079.8 L977.3,1079.4 L979.3,1079.3 L981.3,1079.4 L983.3,1079.5 L985.3,1079.5 L987.3,1079.4 L989.3,1078.9 L991.3,1078.1 L993.3,1077.2 L995.3,1076.3 L997.3,1075.6 L999.3,1075.0 L1001.3,1074.2 L1003.3,1073.4 L1005.3,1072.5 L1007.3,1071.7 L1009.3,1071.1 L1011.3,1070.6 L1013.3,1070.1 L1015.3,1069.7 L1017.3,1069.4 L1019.3,1069.2 L1021.3,1069.2 L1023.3,1069.1 L1025.3,1068.8 L1027.3,1068.4 L1029.3,1067.7 L1031.3,1066.8 L1033.3,1065.5 L1035.3,1064.0 L1037.3,1062.4 L1039.3,1060.7 L1041.3,1059.1 L1043.3,1057.6 L1045.3,1056.1 L1047.3,1054.5 L1049.3,1053.0 L1051.3,1051.8 L1053.3,1050.9 L1055.3,1050.1 L1057.3,1049.4 L1059.3,1048.7 L1061.3,1048.0 L1063.3,1047.1 L1065.3,1046.1 L1067.3,1044.8 L1069.3,1043.1 L1071.3,1041.1 L1073.3,1038.7 L1075.3,1036.1 L1077.3,1033.6 L1079.3,1031.1 L1081.3,1028.7 L1083.3,1026.4 L1085.3,1024.1 L1087.3,1021.8 L1089.3,1019.6 L1091.3,1017.3 L1093.3,1015.1 L1095.3,1012.9 L1097.3,1010.7 L1099.3,1008.6 L1101.3,1006.5 L1103.3,1004.4 L1105.3,1002.2 L1107.3,999.8 L1109.3,997.1 L1111.3,994.2 L1113.3,990.8 L1115.3,987.0 L1117.3,982.9 L1119.3,978.3 L1121.3,973.5 L1123.3,968.6 L1125.3,963.6 L1127.3,958.6 L1129.3,953.5 L1131.3,948.5 L1133.3,943.4 L1135.3,938.1 L1137.3,932.8 L1139.3,927.3 L1141.3,921.6 L1143.3,915.9 L1145.3,909.9 L1147.3,903.6 L1149.3,897.1 L1151.3,890.5 L1153.3,883.8 L1155.3,877.3 L1157.3,871.1 L1159.3,865.2 L1161.3,859.5 L1163.3,853.9 L1165.3,848.4 L1167.3,842.8 L1169.3,837.0 L1171.3,830.9 L1173.3,824.5 L1175.3,817.9 L1177.3,810.9 L1179.3,803.6 L1181.3,795.8 L1183.3,787.1 L1185.3,777.4 L1187.3,767.2 L1189.3,757.2 L1191.3,747.8 L1193.3,738.8 L1195.3,730.0 L1197.3,721.4 L1199.3,713.1 L1201.3,704.8 L1203.3,696.5 L1205.3,688.5 L1207.3,681.1 L1209.3,674.4 L1211.3,668.5 L1213.3,663.3 L1215.3,659.0 L1217.3,655.6 L1219.3,652.9 L1221.3,650.8 L1223.3,649.3 L1225.3,648.3 L1227.3,647.8 L1229.3,647.8 L1231.3,648.5 L1233.3,650.1 L1235.3,653.2 L1237.3,659.0 L1239.3,665.9 L1241.3,672.1 L1243.3,678.1 L1245.3,684.7 L1247.3,691.9 L1249.3,699.6 L1251.3,707.7 L1253.3,716.3 L1255.3,725.5 L1257.3,735.2 L1259.3,745.2 L1261.3,755.5 L1263.3,766.2 L1265.3,777.2 L1267.3,788.1 L1269.3,798.8 L1271.3,809.3 L1273.3,819.6 L1275.3,829.5 L1277.3,838.9 L1279.3,848.0 L1281.3,856.9 L1283.3,865.2 L1285.3,873.1 L1287.3,880.7 L1289.3,887.8 L1291.3,894.7 L1293.3,901.4 L1295.3,907.9 L1297.3,914.2 L1299.3,920.4 L1301.3,926.4 L1303.3,932.2 L1305.3,937.9 L1307.3,943.5 L1309.3,948.9 L1311.3,954.2 L1313.3,959.4 L1315.3,964.5 L1317.3,969.4 L1319.3,974.3 L1321.3,979.0 L1323.3,983.7 L1325.3,988.4 L1327.3,993.0 L1329.3,997.5 L1331.3,1002.0 L1333.3,1006.4 L1335.3,1010.6 L1337.3,1014.8 L1339.3,1018.9 L1341.3,1022.8 L1343.3,1026.5 L1345.3,1030.0 L1347.3,1033.2 L1349.3,1036.2 L1351.3,1038.9 L1353.3,1041.6 L1355.3,1044.1 L1357.3,1046.5 L1359.3,1048.7 L1361.3,1050.9 L1363.3,1053.0 L1365.3,1054.9 L1367.3,1056.8 L1369.3,1058.6 L1371.3,1060.3 L1373.3,1062.1 L1375.3,1063.8 L1377.3,1065.5 L1379.3,1067.2 L1381.3,1069.0 L1383.3,1070.8 L1385.3,1072.6 L1387.3,1074.3 L1389.3,1075.8 L1391.3,1077.1 L1393.3,1078.2 L1395.3,1079.2 L1397.3,1080.0 L1399.3,1080.8 L1401.3,1081.3 L1403.3,1081.7 L1405.3,1082.0 L1407.3,1082.2 L1409.3,1082.4 L1411.3,1082.6 L1413.3,1082.8 L1415.3,1082.8 L1417.3,1082.7 L1419.3,1082.7 L1421.3,1082.8 L1423.3,1083.1 L1425.3,1083.5 L1427.3,1083.9 L1429.3,1084.2 L1431.3,1084.2 L1433.3,1084.2 L1435.3,1084.3 L1437.3,1084.5 L1439.3,1085.0 L1441.3,1085.6 L1443.3,1086.3 L1445.3,1087.0 L1447.3,1087.5 L1449.3,1087.8 L1451.3,1087.6 L1453.3,1087.2 L1455.3,1086.6 L1457.3,1085.9 L1459.3,1085.3 L1461.3,1085.0 L1463.3,1085.0 L1465.3,1085.2 L1467.3,1085.5 L1469.3,1085.9 L1471.3,1086.1 L1473.3,1086.3 L1475.3,1086.5 L1477.3,1086.7 L1479.3,1087.0 L1481.3,1087.2 L1483.3,1087.4 L1485.3,1087.4 L1487.3,1087.3 L1489.3,1087.2 L1491.3,1087.1 L1493.3,1087.0 L1495.3,1086.8 L1497.3,1086.6 L1499.3,1086.5 L1501.3,1086.5 L1503.3,1086.7 L1505.3,1087.0 L1507.3,1087.2 L1509.3,1087.2 L1511.3,1087.0 L1513.3,1086.7 L1515.3,1086.5 L1517.3,1086.4 L1519.3,1086.5 L1521.3,1086.7 L1523.3,1087.2 L1525.3,1087.8 L1527.3,1088.5 L1529.3,1089.2 L1531.3,1089.7 L1533.3,1089.9 L1535.3,1089.5 L1537.3,1088.9 L1539.3,1088.1 L1541.3,1087.5 L1543.3,1087.4 L1545.3,1087.7 L1547.3,1088.5 L1549.3,1089.3 L1551.3,1089.9 L1553.3,1090.2 L1555.3,1090.2 L1557.3,1090.2 L1559.3,1090.5 L1561.3,1091.1 L1563.3,1091.9 L1565.3,1092.7 L1567.3,1093.4 L1569.3,1093.7 L1571.3,1093.8 L1573.3,1093.6 L1575.3,1093.4 L1577.3,1093.1 L1579.3,1092.8 L1581.3,1092.4 L1583.3,1092.0 L1585.3,1091.8 L1587.3,1091.8 L1589.3,1091.9 L1591.3,1091.9 L1593.3,1092.0 L1595.3,1092.3 L1597.3,1092.6 L1599.3,1093.0 L1601.3,1093.2 L1603.3,1093.3 L1605.3,1093.4 L1607.3,1093.3 L1609.3,1093.2 L1611.3,1092.9 L1613.3,1092.7 L1615.3,1092.6 L1617.3,1092.8 L1619.3,1093.1 L1621.3,1093.5 L1623.3,1093.6 L1625.3,1093.5 L1627.3,1093.2 L1629.3,1093.0 L1631.3,1092.9 L1633.3,1092.8 L1635.3,1092.9 L1637.3,1093.1 L1639.3,1093.4 L1641.3,1093.6 L1643.3,1093.7 L1645.3,1093.8 L1647.3,1093.9 L1649.3,1094.1 L1651.3,1094.5 L1653.3,1094.9 L1655.3,1095.2 L1657.3,1095.2 L1659.3,1095.1 L1661.3,1095.0 L1663.3,1094.9 L1665.3,1094.9 L1667.3,1094.8 L1669.3,1094.7 L1671.3,1094.6 L1673.3,1094.6 L1675.3,1094.7 L1677.3,1095.0 L1679.3,1095.3 L1681.3,1095.6 L1683.3,1095.7 L1685.3,1095.6 L1687.3,1095.5 L1689.3,1095.5 L1691.3,1095.7 L1693.3,1095.8 L1695.3,1096.0 L1697.3,1096.0 L1699.3,1096.0 L1701.3,1096.0 L1703.3,1096.1 L1705.3,1096.2 L1707.3,1096.2 L1709.3,1096.1 L1711.3,1095.8 L1713.3,1095.4 L1715.3,1095.1 L1717.3,1095.0 L1719.3,1095.3 L1721.3,1095.8 L1723.3,1096.5 L1725.3,1097.3 L1727.3,1097.8 L1729.3,1097.9 L1731.3,1097.7 L1733.3,1097.3 L1735.3,1096.9 L1737.3,1096.7 L1739.3,1096.9 L1741.3,1097.3 L1743.3,1097.8 L1745.3,1098.1 L1747.3,1098.1 L1749.3,1097.8 L1751.3,1097.3 L1753.3,1096.8 L1755.3,1096.6 L1757.3,1096.7 L1759.3,1097.0 L1761.3,1097.1 L1763.3,1097.1 L1765.3,1096.9 L1767.3,1096.8 L1769.3,1097.0 L1771.3,1097.5 L1773.3,1098.2 L1775.3,1098.9 L1777.3,1099.4 L1779.3,1099.7 L1781.3,1099.8 L1783.3,1100.0 L1785.3,1100.2 L1787.3,1100.3 L1789.3,1100.2 L1791.3,1100.1 L1793.3,1099.8 L1795.3,1099.5 L1797.3,1099.0 L1799.3,1098.5 L1801.3,1097.8 L1803.3,1096.9 L1805.3,1096.0 L1807.3,1095.2 L1809.3,1094.8 L1811.3,1095.2 L1813.3,1096.0 L1815.3,1096.8 L1817.3,1097.4 L1819.3,1097.8 L1821.3,1098.0 L1823.3,1098.0"/>
<path class="curve" stroke="#000000" d="M217.3,140.8 L220.3,140.8 L223.3,140.9 L226.3,141.0 L229.3,141.1 L232.3,141.0 L235.3,140.9 L238.3,140.8 L241.3,140.7 L244.3,140.6 L247.3,140.5 L250.3,140.3 L253.3,140.2 L256.3,140.2 L259.3,140.2 L262.3,140.3 L265.3,140.4 L268.3,140.5 L271.3,140.5 L274.3,140.5 L277.3,140.6 L280.3,140.7 L283.3,140.8 L286.3,140.8 L289.3,140.8 L292.3,140.8 L295.3,140.8 L298.3,140.6 L301.3,140.4 L304.3,140.4 L307.3,140.4 L310.3,140.5 L313.3,140.5 L316.3,140.4 L319.3,140.3 L322.3,140.2 L325.3,140.3 L328.3,140.5 L331.3,140.6 L334.3,140.6 L337.3,140.6 L340.3,140.6 L343.3,140.7 L346.3,140.7 L349.3,140.7 L352.3,140.7 L355.3,140.7 L358.3,140.7 L361.3,140.8 L364.3,140.8 L367.3,140.7 L370.3,140.7 L373.3,140.7 L376.3,140.8 L379.3,140.9 L382.3,140.8 L385.3,140.6 L388.3,140.4 L391.3,140.3 L394.3,140.4 L397.3,140.5 L400.3,140.5 L403.3,140.5 L406.3,140.4 L409.3,140.4 L412.3,140.5 L415.3,140.7 L418.3,140.7 L421.3,140.7 L424.3,140.6 L427.3,140.5 L430.3,140.5 L433.3,140.5 L436.3,140.5 L439.3,140.5 L442.3,140.4 L445.3,140.5 L448.3,140.7 L451.3,140.9 L454.3,140.9 L457.3,140.8 L460.3,140.6 L463.3,140.4 L466.3,140.4 L469.3,140.4 L472.3,140.4 L475.3,140.2 L478.3,140.2 L481.3,140.3 L484.3,140.5 L487.3,140.6 L490.3,140.8 L493.3,140.8 L496.3,140.7 L499.3,140.5 L502.3,140.4 L505.3,140.4 L508.3,140.5 L511.3,140.5 L514.3,140.4 L517.3,140.3 L520.3,140.4 L523.3,140.5 L526.3,140.6 L529.3,140.5 L532.3,140.4 L535.3,140.4 L538.3,140.5 L541.3,140.7 L544.3,140.9 L547.3,140.9 L550.3,140.8 L553.3,140.7 L556.3,140.6 L559.3,140.6 L562.3,140.7 L565.3,140.8 L568.3,140.9 L571.3,140.9 L574.3,141.0 L577.3,141.0 L580.3,141.1 L583.3,141.0 L586.3,140.9 L589.3,140.7 L592.3,140.6 L595.3,140.6 L598.3,140.7 L601.3,140.9 L604.3,141.0 L607.3,141.0 L610.3,140.9 L613.3,140.8 L616.3,140.8 L619.3,140.9 L622.3,140.9 L625.3,140.9 L628.3,140.8 L631.3,140.7 L634.3,140.7 L637.3,140.7 L640.3,140.7 L643.3,140.7 L646.3,140.7 L649.3,140.6 L652.3,140.6 L655.3,140.5 L658.3,140.6 L661.3,140.7 L664.3,140.8 L667.3,140.7 L670.3,140.6 L673.3,140.6 L676.3,140.7 L679.3,140.8 L682.3,141.0 L685.3,141.2 L688.3,141.3 L691.3,141.4 L694.3,141.4 L697.3,141.4 L700.3,141.2 L703.3,141.2 L706.3,141.2 L709.3,141.3 L712.3,141.4 L715.3,141.4 L718.3,141.4 L721.3,141.3 L724.3,141.3 L727.3,141.3 L730.3,141.4 L733.3,141.5 L736.3,141.7 L739.3,141.9 L742.3,142.0 L745.3,141.9 L748.3,141.7 L751.3,141.6 L754.3,141.6 L757.3,141.6 L760.3,141.7 L763.3,141.7 L766.3,141.7 L769.3,141.7 L772.3,141.8 L775.3,141.9 L778.3,142.1 L781.3,142.1 L784.3,142.1 L787.3,142.1 L790.3,142.0 L793.3,142.0 L796.3,141.8 L799.3,141.7 L802.3,141.6 L805.3,141.7 L808.3,141.7 L811.3,141.9 L814.3,142.0 L817.3,142.1 L820.3,142.1 L823.3,142.0 L826.3,141.9 L829.3,141.9 L832.3,142.1 L835.3,142.4 L838.3,142.5 L841.3,142.6 L844.3,142.7 L847.3,142.7 L850.3,142.7 L853.3,142.6 L856.3,142.6 L859.3,142.7 L862.3,142.7 L865.3,142.8 L868.3,143.0 L871.3,143.1 L874.3,143.3 L877.3,143.3 L880.3,143.3 L883.3,143.2 L886.3,143.1 L889.3,143.1 L892.3,143.1 L895.3,143.3 L898.3,143.5 L901.3,143.7 L904.3,143.7 L907.3,143.6 L910.3,143.4 L913.3,143.4 L916.3,143.6 L919.3,144.0 L922.3,144.3 L925.3,144.5 L928.3,144.7 L931.3,144.9 L934.3,145.1 L937.3,145.3 L940.3,145.3 L943.3,145.4 L946.3,145.7 L949.3,146.0 L952.3,146.3 L955.3,146.5 L958.3,146.7 L961.3,146.8 L964.3,147.0 L967.3,147.1 L970.3,147.3 L973.3,147.4 L976.3,147.6 L979.3,147.9 L982.3,148.2 L985.3,148.6 L988.3,148.9 L991.3,149.4 L994.3,149.8 L997.3,150.2 L1000.3,150.6 L1003.3,150.8 L1006.3,151.2 L1009.3,151.5 L1012.3,152.0 L1015.3,152.5 L1018.3,153.0 L1021.3,153.5 L1024.3,154.1 L1027.3,154.6 L1030.3,155.0 L1033.3,155.4 L1036.3,155.7 L1039.3,156.2 L1042.3,156.8 L1045.3,157.4 L1048.3,158.1 L1051.3,158.7 L1054.3,159.2 L1057.3,159.6 L1060.3,160.1 L1063.3,160.6 L1066.3,161.3 L1069.3,162.0 L1072.3,162.7 L1075.3,163.4 L1078.3,164.1 L1081.3,164.8 L1084.3,165.6 L1087.3,166.3 L1090.3,166.9 L1093.3,167.5 L1096.3,168.2 L1099.3,169.0 L1102.3,170.0 L1105.3,171.0 L1108.3,172.1 L1111.3,173.3 L1114.3,174.5 L1117.3,175.8 L1120.3,177.1 L1123.3,178.6 L1126.3,180.1 L1129.3,181.5 L1132.3,182.8 L1135.3,184.1 L1138.3,185.6 L1141.3,187.0 L1144.3,188.5 L1147.3,190.2 L1150.3,192.1 L1153.3,194.2 L1156.3,196.4 L1159.3,198.6 L1162.3,201.1 L1165.3,203.6 L1168.3,206.2 L1171.3,208.8 L1174.3,211.5 L1177.3,214.1 L1180.3,216.8 L1183.3,219.4 L1186.3,222.1 L1189.3,224.8 L1192.3,228.0 L1195.3,231.8 L1198.3,236.3 L1201.3,241.3 L1204.3,246.6 L1207.3,251.8 L1210.3,256.9 L1213.3,261.9 L1216.3,266.9 L1219.3,271.9 L1222.3,276.9 L1225.3,282.0 L1228.3,287.2 L1231.3,292.6 L1234.3,298.1 L1237.3,303.8 L1240.3,309.8 L1243.3,316.1 L1246.3,322.7 L1249.3,329.6 L1252.3,336.1 L1255.3,341.9 L1258.3,347.1 L1261.3,352.0 L1264.3,356.5 L1267.3,360.7 L1270.3,364.7 L1273.3,368.4 L1276.3,371.9 L1279.3,375.0 L1282.3,378.0 L1285.3,380.8 L1288.3,383.3 L1291.3,385.8 L1294.3,388.3 L1297.3,390.6 L1300.3,392.8 L1303.3,394.8 L1306.3,396.6 L1309.3,398.3 L1312.3,400.0 L1315.3,401.7 L1318.3,403.3 L1321.3,404.9 L1324.3,406.3 L1327.3,407.6 L1330.3,408.8 L1333.3,410.1 L1336.3,411.6 L1339.3,412.8 L1342.3,413.9 L1345.3,414.8 L1348.3,415.6 L1351.3,416.4 L1354.3,417.1 L1357.3,417.8 L1360.3,418.4 L1363.3,419.1 L1366.3,419.8 L1369.3,420.5 L1372.3,421.2 L1375.3,422.0 L1378.3,422.7 L1381.3,423.2 L1384.3,423.6 L1387.3,424.0 L1390.3,424.4 L1393.3,424.8 L1396.3,425.2 L1399.3,425.5 L1402.3,425.9 L1405.3,426.3 L1408.3,426.8 L1411.3,427.1 L1414.3,427.3 L1417.3,427.4 L1420.3,427.5 L1423.3,427.7 L1426.3,428.0 L1429.3,428.2 L1432.3,428.5 L1435.3,428.6 L1438.3,428.7 L1441.3,429.0 L1444.3,429.3 L1447.3,429.7 L1450.3,430.0 L1453.3,430.3 L1456.3,430.6 L1459.3,430.9 L1462.3,431.0 L1465.3,431.1 L1468.3,431.1 L1471.3,431.1 L1474.3,431.1 L1477.3,431.2 L1480.3,431.3 L1483.3,431.6 L1486.3,431.9 L1489.3,432.0 L1492.3,432.0 L1495.3,432.0 L1498.3,432.2 L1501.3,432.4 L1504.3,432.6 L1507.3,432.7 L1510.3,432.7 L1513.3,432.7 L1516.3,432.8 L1519.3,432.9 L1522.3,432.9 L1525.3,433.1 L1528.3,433.4 L1531.3,433.6 L1534.3,433.7 L1537.3,433.7 L1540.3,433.6 L1543.3,433.5 L1546.3,433.4 L1549.3,433.4 L1552.3,433.6 L1555.3,433.8 L1558.3,434.2 L1561.3,434.5 L1564.3,434.7 L1567.3,434.9 L1570.3,435.1 L1573.3,435.2 L1576.3,435.4 L1579.3,435.5 L1582.3,435.7 L1585.3,435.9 L1588.3,436.0 L1591.3,436.1 L1594.3,436.3 L1597.3,436.5 L1600.3,436.6 L1603.3,436.8 L1606.3,437.0 L1609.3,437.2 L1612.3,437.3 L1615.3,437.2 L1618.3,437.2 L1621.3,437.4 L1624.3,437.6 L1627.3,437.7 L1630.3,437.8 L1633.3,437.9 L1636.3,438.1 L1639.3,438.3 L1642.3,438.5 L1645.3,438.8 L1648.3,438.9 L1651.3,438.9 L1654.3,438.8 L1657.3,438.8 L1660.3,438.9 L1663.3,439.0 L1666.3,439.0 L1669.3,439.0 L1672.3,439.0 L1675.3,439.0 L1678.3,439.1 L1681.3,439.2 L1684.3,439.2 L1687.3,439.3 L1690.3,439.5 L1693.3,439.6 L1696.3,439.7 L1699.3,439.7 L1702.3,439.7 L1705.3,439.7 L1708.3,439.8 L1711.3,439.9 L1714.3,440.0 L1717.3,440.0 L1720.3,440.1 L1723.3,440.3 L1726.3,440.3 L1729.3,440.4 L1732.3,440.5 L1735.3,440.6 L1738.3,440.8 L1741.3,440.9 L1744.3,440.9 L1747.3,440.8 L1750.3,440.7 L1753.3,440.8 L1756.3,440.8 L1759.3,440.9 L1762.3,441.0 L1765.3,441.1 L1768.3,441.1 L1771.3,441.1 L1774.3,441.1 L1777.3,441.2 L1780.3,441.2 L1783.3,441.3 L1786.3,441.3 L1789.3,441.4 L1792.3,441.5 L1795.3,441.6 L1798.3,441.6 L1801.3,441.5 L1804.3,441.4 L1807.3,441.5 L1810.3,441.6 L1813.3,441.7 L1816.3,441.8 L1819.3,441.8 L1822.3,441.8"/>
<path class="curve" stroke="#ff0000" d="M217.3,139.3 L220.3,139.3 L223.3,139.2 L226.3,139.2 L229.3,139.1 L232.3,139.0 L235.3,138.9 L238.3,138.7 L241.3,138.5 L244.3,138.4 L247.3,138.4 L250.3,138.4 L253.3,138.2 L256.3,138.0 L259.3,137.9 L262.3,137.9 L265.3,137.8 L268.3,137.8 L271.3,137.7 L274.3,137.5 L277.3,137.4 L280.3,137.4 L283.3,137.4 L286.3,137.4 L289.3,137.3 L292.3,137.3 L295.3,137.3 L298.3,137.3 L301.3,137.3 L304.3,137.3 L307.3,137.3 L310.3,137.3 L313.3,137.2 L316.3,137.2 L319.3,137.2 L322.3,137.2 L325.3,137.3 L328.3,137.4 L331.3,137.4 L334.3,137.3 L337.3,137.2 L340.3,137.1 L343.3,137.1 L346.3,137.1 L349.3,137.2 L352.3,137.2 L355.3,137.2 L358.3,137.2 L361.3,137.2 L364.3,137.2 L367.3,137.2 L370.3,137.2 L373.3,137.2 L376.3,137.3 L379.3,137.3 L382.3,137.4 L385.3,137.5 L388.3,137.6 L391.3,137.5 L394.3,137.5 L397.3,137.4 L400.3,137.4 L403.3,137.3 L406.3,137.3 L409.3,137.4 L412.3,137.4 L415.3,137.4 L418.3,137.3 L421.3,137.3 L424.3,137.3 L427.3,137.4 L430.3,137.3 L433.3,137.3 L436.3,137.3 L439.3,137.3 L442.3,137.4 L445.3,137.5 L448.3,137.5 L451.3,137.4 L454.3,137.3 L457.3,137.1 L460.3,137.0 L463.3,137.0 L466.3,137.0 L469.3,137.1 L472.3,137.1 L475.3,137.2 L478.3,137.3 L481.3,137.4 L484.3,137.4 L487.3,137.4 L490.3,137.4 L493.3,137.4 L496.3,137.4 L499.3,137.5 L502.3,137.5 L505.3,137.5 L508.3,137.5 L511.3,137.6 L514.3,137.6 L517.3,137.6 L520.3,137.5 L523.3,137.4 L526.3,137.3 L529.3,137.3 L532.3,137.4 L535.3,137.5 L538.3,137.6 L541.3,137.7 L544.3,137.7 L547.3,137.7 L550.3,137.7 L553.3,137.8 L556.3,137.9 L559.3,137.9 L562.3,138.0 L565.3,138.0 L568.3,138.0 L571.3,138.0 L574.3,138.0 L577.3,138.1 L580.3,138.1 L583.3,138.2 L586.3,138.3 L589.3,138.3 L592.3,138.2 L595.3,138.1 L598.3,138.2 L601.3,138.3 L604.3,138.4 L607.3,138.5 L610.3,138.6 L613.3,138.7 L616.3,138.9 L619.3,138.9 L622.3,138.9 L625.3,138.9 L628.3,138.9 L631.3,139.0 L634.3,139.1 L637.3,139.2 L640.3,139.2 L643.3,139.3 L646.3,139.2 L649.3,139.2 L652.3,139.2 L655.3,139.2 L658.3,139.4 L661.3,139.5 L664.3,139.6 L667.3,139.7 L670.3,139.8 L673.3,139.8 L676.3,139.9 L679.3,139.9 L682.3,139.9 L685.3,139.9 L688.3,140.0 L691.3,140.0 L694.3,140.0 L697.3,140.1 L700.3,140.2 L703.3,140.3 L706.3,140.3 L709.3,140.3 L712.3,140.3 L715.3,140.2 L718.3,140.2 L721.3,140.3 L724.3,140.4 L727.3,140.5 L730.3,140.4 L733.3,140.4 L736.3,140.4 L739.3,140.5 L742.3,140.5 L745.3,140.5 L748.3,140.5 L751.3,140.5 L754.3,140.5 L757.3,140.5 L760.3,140.5 L763.3,140.5 L766.3,140.5 L769.3,140.4 L772.3,140.4 L775.3,140.4 L778.3,140.4 L781.3,140.5 L784.3,140.5 L787.3,140.5 L790.3,140.5 L793.3,140.5 L796.3,140.4 L799.3,140.4 L802.3,140.4 L805.3,140.4 L808.3,140.5 L811.3,140.6 L814.3,140.5 L817.3,140.5 L820.3,140.5 L823.3,140.4 L826.3,140.3 L829.3,140.2 L832.3,140.2 L835.3,140.3 L838.3,140.4 L841.3,140.5 L844.3,140.5 L847.3,140.5 L850.3,140.5 L853.3,140.6 L856.3,140.7 L859.3,140.8 L862.3,140.8 L865.3,140.9 L868.3,140.9 L871.3,140.9 L874.3,140.8 L877.3,140.8 L880.3,140.9 L883.3,141.0 L886.3,141.0 L889.3,141.0 L892.3,141.0 L895.3,141.1 L898.3,141.1 L901.3,141.2 L904.3,141.2 L907.3,141.3 L910.3,141.4 L913.3,141.5 L916.3,141.5 L919.3,141.6 L922.3,141.7 L925.3,141.8 L928.3,141.9 L931.3,142.1 L934.3,142.2 L937.3,142.3 L940.3,142.4 L943.3,142.5 L946.3,142.7 L949.3,142.8 L952.3,142.9 L955.3,143.0 L958.3,143.1 L961.3,143.2 L964.3,143.4 L967.3,143.7 L970.3,143.9 L973.3,144.0 L976.3,144.1 L979.3,144.3 L982.3,144.4 L985.3,144.6 L988.3,144.8 L991.3,145.1 L994.3,145.3 L997.3,145.5 L1000.3,145.7 L1003.3,146.0 L1006.3,146.4 L1009.3,146.8 L1012.3,147.2 L1015.3,147.6 L1018.3,148.0 L1021.3,148.5 L1024.3,149.1 L1027.3,149.6 L1030.3,150.1 L1033.3,150.6 L1036.3,151.1 L1039.3,151.6 L1042.3,152.2 L1045.3,152.8 L1048.3,153.4 L1051.3,154.2 L1054.3,154.9 L1057.3,155.6 L1060.3,156.2 L1063.3,156.9 L1066.3,157.6 L1069.3,158.2 L1072.3,159.0 L1075.3,159.8 L1078.3,160.7 L1081.3,161.6 L1084.3,162.5 L1087.3,163.4 L1090.3,164.3 L1093.3,165.1 L1096.3,166.0 L1099.3,167.0 L1102.3,168.0 L1105.3,169.1 L1108.3,170.2 L1111.3,171.4 L1114.3,172.5 L1117.3,173.7 L1120.3,174.9 L1123.3,176.2 L1126.3,177.6 L1129.3,179.1 L1132.3,180.7 L1135.3,182.3 L1138.3,184.1 L1141.3,185.8 L1144.3,187.7 L1147.3,189.6 L1150.3,191.9 L1153.3,194.5 L1156.3,197.4 L1159.3,200.6 L1162.3,203.9 L1165.3,207.5 L1168.3,211.2 L1171.3,215.1 L1174.3,219.2 L1177.3,223.4 L1180.3,227.6 L1183.3,231.9 L1186.3,236.2 L1189.3,240.7 L1192.3,245.3 L1195.3,249.9 L1198.3,254.6 L1201.3,259.2 L1204.3,263.8 L1207.3,268.5 L1210.3,273.2 L1213.3,277.8 L1216.3,282.0 L1219.3,285.8 L1222.3,289.2 L1225.3,292.3 L1228.3,295.5 L1231.3,298.6 L1234.3,301.7 L1237.3,304.7 L1240.3,307.8 L1243.3,310.8 L1246.3,313.8 L1249.3,316.9 L1252.3,320.1 L1255.3,323.5 L1258.3,326.8 L1261.3,330.2 L1264.3,333.3 L1267.3,336.3 L1270.3,339.0 L1273.3,341.5 L1276.3,343.9 L1279.3,346.2 L1282.3,348.5 L1285.3,350.6 L1288.3,352.6 L1291.3,354.4 L1294.3,356.1 L1297.3,357.8 L1300.3,359.4 L1303.3,360.9 L1306.3,362.4 L1309.3,363.7 L1312.3,364.9 L1315.3,366.0 L1318.3,367.2 L1321.3,368.3 L1324.3,369.5 L1327.3,370.5 L1330.3,371.5 L1333.3,372.4 L1336.3,373.3 L1339.3,374.2 L1342.3,375.1 L1345.3,376.0 L1348.3,376.8 L1351.3,377.6 L1354.3,378.3 L1357.3,378.9 L1360.3,379.6 L1363.3,380.3 L1366.3,380.9 L1369.3,381.5 L1372.3,382.0 L1375.3,382.5 L1378.3,383.0 L1381.3,383.5 L1384.3,383.9 L1387.3,384.3 L1390.3,384.6 L1393.3,385.0 L1396.3,385.3 L1399.3,385.6 L1402.3,385.9 L1405.3,386.2 L1408.3,386.4 L1411.3,386.7 L1414.3,386.9 L1417.3,387.1 L1420.3,387.3 L1423.3,387.5 L1426.3,387.8 L1429.3,388.1 L1432.3,388.3 L1435.3,388.4 L1438.3,388.6 L1441.3,388.8 L1444.3,389.1 L1447.3,389.2 L1450.3,389.4 L1453.3,389.6 L1456.3,389.7 L1459.3,389.9 L1462.3,390.0 L1465.3,390.2 L1468.3,390.3 L1471.3,390.3 L1474.3,390.3 L1477.3,390.3 L1480.3,390.4 L1483.3,390.5 L1486.3,390.6 L1489.3,390.6 L1492.3,390.5 L1495.3,390.5 L1498.3,390.5 L1501.3,390.5 L1504.3,390.6 L1507.3,390.7 L1510.3,390.8 L1513.3,390.8 L1516.3,390.9 L1519.3,390.9 L1522.3,390.8 L1525.3,390.8 L1528.3,390.9 L1531.3,391.0 L1534.3,391.0 L1537.3,391.0 L1540.3,391.1 L1543.3,391.0 L1546.3,391.0 L1549.3,390.9 L1552.3,390.9 L1555.3,390.9 L1558.3,390.9 L1561.3,390.9 L1564.3,391.0 L1567.3,391.0 L1570.3,391.1 L1573.3,391.2 L1576.3,391.2 L1579.3,391.2 L1582.3,391.3 L1585.3,391.3 L1588.3,391.3 L1591.3,391.4 L1594.3,391.4 L1597.3,391.4 L1600.3,391.4 L1603.3,391.4 L1606.3,391.4 L1609.3,391.4 L1612.3,391.4 L1615.3,391.5 L1618.3,391.5 L1621.3,391.5 L1624.3,391.5 L1627.3,391.5 L1630.3,391.6 L1633.3,391.6 L1636.3,391.6 L1639.3,391.6 L1642.3,391.7 L1645.3,391.7 L1648.3,391.7 L1651.3,391.7 L1654.3,391.8 L1657.3,391.9 L1660.3,392.0 L1663.3,392.0 L1666.3,392.1 L1669.3,392.1 L1672.3,392.1 L1675.3,392.1 L1678.3,392.0 L1681.3,392.0 L1684.3,392.0 L1687.3,392.1 L1690.3,392.2 L1693.3,392.3 L1696.3,392.3 L1699.3,392.3 L1702.3,392.3 L1705.3,392.3 L1708.3,392.3 L1711.3,392.3 L1714.3,392.3 L1717.3,392.4 L1720.3,392.4 L1723.3,392.4 L1726.3,392.3 L1729.3,392.3 L1732.3,392.2 L1735.3,392.3 L1738.3,392.4 L1741.3,392.5 L1744.3,392.5 L1747.3,392.5 L1750.3,392.5 L1753.3,392.6 L1756.3,392.7 L1759.3,392.7 L1762.3,392.7 L1765.3,392.7 L1768.3,392.7 L1771.3,392.7 L1774.3,392.7 L1777.3,392.7 L1780.3,392.7 L1783.3,392.7 L1786.3,392.8 L1789.3,392.9 L1792.3,392.9 L1795.3,392.9 L1798.3,392.9 L1801.3,393.0 L1804.3,393.0 L1807.3,393.1 L1810.3,393.1 L1813.3,393.0 L1816.3,392.9 L1819.3,392.9 L1822.3,392.9"/>
<path class="curve" stroke="#0000ff" d="M217.3,141.2 L220.3,141.1 L223.3,141.0 L226.3,140.8 L229.3,140.7 L232.3,140.8 L235.3,140.9 L238.3,141.0 L241.3,141.0 L244.3,141.0 L247.3,141.0 L250.3,141.0 L253.3,141.0 L256.3,141.0 L259.3,141.0 L262.3,141.0 L265.3,140.9 L268.3,140.8 L271.3,140.7 L274.3,140.8 L277.3,140.8 L280.3,141.0 L283.3,141.0 L286.3,141.1 L289.3,141.1 L292.3,141.0 L295.3,140.9 L298.3,140.9 L301.3,140.8 L304.3,140.8 L307.3,140.8 L310.3,140.8 L313.3,140.9 L316.3,141.0 L319.3,141.0 L322.3,141.1 L325.3,141.1 L328.3,141.1 L331.3,141.0 L334.3,140.9 L337.3,140.9 L340.3,141.0 L343.3,141.1 L346.3,141.2 L349.3,141.2 L352.3,141.3 L355.3,141.2 L358.3,141.1 L361.3,141.1 L364.3,141.0 L367.3,141.0 L370.3,141.0 L373.3,141.1 L376.3,141.0 L379.3,141.0 L382.3,141.1 L385.3,141.1 L388.3,141.1 L391.3,141.1 L394.3,141.2 L397.3,141.2 L400.3,141.2 L403.3,141.3 L406.3,141.3 L409.3,141.3 L412.3,141.3 L415.3,141.2 L418.3,141.2 L421.3,141.1 L424.3,141.2 L427.3,141.2 L430.3,141.3 L433.3,141.4 L436.3,141.4 L439.3,141.4 L442.3,141.3 L445.3,141.3 L448.3,141.3 L451.3,141.3 L454.3,141.4 L457.3,141.5 L460.3,141.6 L463.3,141.7 L466.3,141.6 L469.3,141.6 L472.3,141.5 L475.3,141.5 L478.3,141.5 L481.3,141.6 L484.3,141.6 L487.3,141.5 L490.3,141.5 L493.3,141.5 L496.3,141.5 L499.3,141.6 L502.3,141.6 L505.3,141.6 L508.3,141.6 L511.3,141.6 L514.3,141.7 L517.3,141.7 L520.3,141.8 L523.3,141.8 L526.3,141.8 L529.3,141.8 L532.3,141.8 L535.3,141.9 L538.3,141.9 L541.3,141.9 L544.3,142.0 L547.3,142.0 L550.3,141.9 L553.3,141.8 L556.3,141.8 L559.3,141.9 L562.3,142.0 L565.3,142.1 L568.3,142.1 L571.3,142.1 L574.3,142.2 L577.3,142.2 L580.3,142.2 L583.3,142.1 L586.3,142.1 L589.3,142.1 L592.3,142.1 L595.3,142.1 L598.3,142.2 L601.3,142.2 L604.3,142.4 L607.3,142.5 L610.3,142.6 L613.3,142.6 L616.3,142.5 L619.3,142.4 L622.3,142.4 L625.3,142.3 L628.3,142.3 L631.3,142.3 L634.3,142.4 L637.3,142.5 L640.3,142.6 L643.3,142.7 L646.3,142.7 L649.3,142.6 L652.3,142.7 L655.3,142.8 L658.3,142.8 L661.3,142.8 L664.3,142.8 L667.3,142.8 L670.3,142.8 L673.3,142.9 L676.3,142.9 L679.3,143.0 L682.3,143.0 L685.3,142.9 L688.3,142.9 L691.3,142.9 L694.3,143.1 L697.3,143.2 L700.3,143.3 L703.3,143.4 L706.3,143.5 L709.3,143.4 L712.3,143.4 L715.3,143.4 L718.3,143.3 L721.3,143.3 L724.3,143.3 L727.3,143.5 L730.3,143.6 L733.3,143.7 L736.3,143.7 L739.3,143.7 L742.3,143.7 L745.3,143.7 L748.3,143.7 L751.3,143.7 L754.3,143.7 L757.3,143.8 L760.3,143.9 L763.3,144.0 L766.3,144.0 L769.3,144.0 L772.3,144.0 L775.3,144.0 L778.3,144.1 L781.3,144.2 L784.3,144.3 L787.3,144.4 L790.3,144.5 L793.3,144.5 L796.3,144.6 L799.3,144.7 L802.3,144.7 L805.3,144.7 L808.3,144.7 L811.3,144.7 L814.3,144.7 L817.3,144.7 L820.3,144.7 L823.3,144.8 L826.3,144.9 L829.3,145.0 L832.3,145.1 L835.3,145.2 L838.3,145.4 L841.3,145.6 L844.3,145.7 L847.3,145.8 L850.3,145.8 L853.3,145.9 L856.3,146.1 L859.3,146.3 L862.3,146.3 L865.3,146.4 L868.3,146.5 L871.3,146.5 L874.3,146.6 L877.3,146.8 L880.3,146.9 L883.3,147.0 L886.3,147.2 L889.3,147.3 L892.3,147.5 L895.3,147.7 L898.3,147.9 L901.3,148.1 L904.3,148.4 L907.3,148.7 L910.3,149.1 L913.3,149.4 L916.3,149.7 L919.3,150.0 L922.3,150.3 L925.3,150.6 L928.3,150.9 L931.3,151.2 L934.3,151.5 L937.3,151.8 L940.3,152.0 L943.3,152.3 L946.3,152.6 L949.3,153.0 L952.3,153.4 L955.3,153.7 L958.3,154.0 L961.3,154.2 L964.3,154.5 L967.3,154.7 L970.3,155.0 L973.3,155.3 L976.3,155.6 L979.3,155.9 L982.3,156.2 L985.3,156.5 L988.3,156.8 L991.3,157.1 L994.3,157.4 L997.3,157.7 L1000.3,158.0 L1003.3,158.4 L1006.3,158.7 L1009.3,159.0 L1012.3,159.2 L1015.3,159.5 L1018.3,159.9 L1021.3,160.2 L1024.3,160.5 L1027.3,160.8 L1030.3,161.1 L1033.3,161.4 L1036.3,161.7 L1039.3,162.1 L1042.3,162.4 L1045.3,162.9 L1048.3,163.4 L1051.3,163.8 L1054.3,164.2 L1057.3,164.6 L1060.3,164.9 L1063.3,165.3 L1066.3,165.7 L1069.3,166.2 L1072.3,166.8 L1075.3,167.4 L1078.3,168.0 L1081.3,168.5 L1084.3,168.9 L1087.3,169.4 L1090.3,170.0 L1093.3,170.7 L1096.3,171.5 L1099.3,172.2 L1102.3,173.0 L1105.3,174.0 L1108.3,175.1 L1111.3,176.2 L1114.3,177.4 L1117.3,178.6 L1120.3,180.0 L1123.3,181.4 L1126.3,182.8 L1129.3,184.2 L1132.3,185.8 L1135.3,187.4 L1138.3,189.1 L1141.3,190.8 L1144.3,192.5 L1147.3,194.3 L1150.3,196.3 L1153.3,198.5 L1156.3,200.8 L1159.3,203.3 L1162.3,205.9 L1165.3,208.6 L1168.3,211.3 L1171.3,214.0 L1174.3,216.7 L1177.3,219.6 L1180.3,222.6 L1183.3,225.7 L1186.3,229.1 L1189.3,232.9 L1192.3,237.1 L1195.3,241.6 L1198.3,246.5 L1201.3,251.4 L1204.3,256.3 L1207.3,261.0 L1210.3,265.8 L1213.3,270.5 L1216.3,275.3 L1219.3,280.1 L1222.3,284.7 L1225.3,289.1 L1228.3,293.6 L1231.3,298.2 L1234.3,303.0 L1237.3,307.9 L1240.3,312.8 L1243.3,317.7 L1246.3,322.4 L1249.3,327.0 L1252.3,331.4 L1255.3,335.5 L1258.3,339.4 L1261.3,343.0 L1264.3,346.4 L1267.3,349.6 L1270.3,352.6 L1273.3,355.6 L1276.3,358.5 L1279.3,361.2 L1282.3,363.7 L1285.3,366.1 L1288.3,368.3 L1291.3,370.5 L1294.3,372.5 L1297.3,374.3 L1300.3,376.0 L1303.3,377.7 L1306.3,379.4 L1309.3,381.0 L1312.3,382.6 L1315.3,384.1 L1318.3,385.5 L1321.3,386.7 L1324.3,388.0 L1327.3,389.2 L1330.3,390.4 L1333.3,391.4 L1336.3,392.3 L1339.3,393.1 L1342.3,393.9 L1345.3,394.6 L1348.3,395.3 L1351.3,395.9 L1354.3,396.6 L1357.3,397.2 L1360.3,397.8 L1363.3,398.4 L1366.3,398.9 L1369.3,399.4 L1372.3,400.0 L1375.3,400.5 L1378.3,400.9 L1381.3,401.3 L1384.3,401.6 L1387.3,402.0 L1390.3,402.4 L1393.3,402.8 L1396.3,403.2 L1399.3,403.6 L1402.3,404.0 L1405.3,404.3 L1408.3,404.6 L1411.3,404.9 L1414.3,405.3 L1417.3,405.5 L1420.3,405.7 L1423.3,405.9 L1426.3,406.1 L1429.3,406.3 L1432.3,406.4 L1435.3,406.5 L1438.3,406.7 L1441.3,406.8 L1444.3,407.0 L1447.3,407.2 L1450.3,407.4 L1453.3,407.5 L1456.3,407.6 L1459.3,407.6 L1462.3,407.7 L1465.3,407.8 L1468.3,407.9 L1471.3,408.1 L1474.3,408.2 L1477.3,408.2 L1480.3,408.3 L1483.3,408.4 L1486.3,408.6 L1489.3,408.7 L1492.3,408.9 L1495.3,409.1 L1498.3,409.2 L1501.3,409.4 L1504.3,409.5 L1507.3,409.6 L1510.3,409.7 L1513.3,409.7 L1516.3,409.8 L1519.3,409.9 L1522.3,410.0 L1525.3,410.2 L1528.3,410.3 L1531.3,410.3 L1534.3,410.4 L1537.3,410.5 L1540.3,410.6 L1543.3,410.7 L1546.3,410.8 L1549.3,410.8 L1552.3,410.9 L1555.3,411.1 L1558.3,411.2 L1561.3,411.4 L1564.3,411.4 L1567.3,411.5 L1570.3,411.5 L1573.3,411.6 L1576.3,411.6 L1579.3,411.7 L1582.3,411.7 L1585.3,411.8 L1588.3,411.9 L1591.3,412.0 L1594.3,412.0 L1597.3,412.0 L1600.3,412.0 L1603.3,412.1 L1606.3,412.2 L1609.3,412.3 L1612.3,412.4 L1615.3,412.4 L1618.3,412.5 L1621.3,412.6 L1624.3,412.7 L1627.3,412.9 L1630.3,412.9 L1633.3,412.9 L1636.3,412.9 L1639.3,413.0 L1642.3,413.0 L1645.3,413.2 L1648.3,413.3 L1651.3,413.4 L1654.3,413.4 L1657.3,413.4 L1660.3,413.4 L1663.3,413.5 L1666.3,413.5 L1669.3,413.5 L1672.3,413.5 L1675.3,413.6 L1678.3,413.7 L1681.3,413.8 L1684.3,414.0 L1687.3,414.0 L1690.3,414.0 L1693.3,414.0 L1696.3,414.1 L1699.3,414.1 L1702.3,414.2 L1705.3,414.3 L1708.3,414.3 L1711.3,414.3 L1714.3,414.3 L1717.3,414.4 L1720.3,414.4 L1723.3,414.5 L1726.3,414.6 L1729.3,414.6 L1732.3,414.6 L1735.3,414.6 L1738.3,414.6 L1741.3,414.7 L1744.3,414.7 L1747.3,414.8 L1750.3,415.0 L1753.3,415.1 L1756.3,415.2 L1759.3,415.2 L1762.3,415.1 L1765.3,415.0 L1768.3,415.0 L1771.3,415.0 L1774.3,415.1 L1777.3,415.2 L1780.3,415.2 L1783.3,415.3 L1786.3,415.4 L1789.3,415.5 L1792.3,415.6 L1795.3,415.7 L1798.3,415.9 L1801.3,416.0 L1804.3,416.1 L1807.3,416.2 L1810.3,416.3 L1813.3,416.2 L1816.3,416.2 L1819.3,416.1 L1822.3,416.1"/>
<path d="M221.5,140.3 H1824.0" stroke="#000" stroke-width="5.4" stroke-dasharray="20 22.46" fill="none"/>
</g>
<path d="M217.3,1137 V28.9 H1824.0 V1206.9 H217.3 V1161" fill="none" stroke="#000" stroke-width="5.8" stroke-linejoin="miter" stroke-linecap="butt"/>
<path d="M191,1148 L242.5,1127.5 M191,1168.8 L242.5,1148" stroke="#000" stroke-width="3.6" fill="none"/>
<path d="M217.3,140.3 H242.5" stroke="#000" stroke-width="5.4"/>
<path d="M217.3,362.25 H242.5" stroke="#000" stroke-width="5.4"/>
<path d="M217.3,584.2 H242.5" stroke="#000" stroke-width="5.4"/>
<path d="M217.3,806.15 H242.5" stroke="#000" stroke-width="5.4"/>
<path d="M217.3,1028.1 H242.5" stroke="#000" stroke-width="5.4"/>
<path d="M361.7,1206.9 V1182" stroke="#000" stroke-width="5.4"/>
<path d="M654.2,1206.9 V1182" stroke="#000" stroke-width="5.4"/>
<path d="M946.6,1206.9 V1182" stroke="#000" stroke-width="5.4"/>
<path d="M1239.1,1206.9 V1182" stroke="#000" stroke-width="5.4"/>
<path d="M1531.5,1206.9 V1182" stroke="#000" stroke-width="5.4"/>
<path d="M1824.0,243.2 H1797.5" stroke="#000" stroke-width="5.4"/>
<path d="M1824.0,457.5 H1797.5" stroke="#000" stroke-width="5.4"/>
<path d="M1824.0,671.7 H1797.5" stroke="#000" stroke-width="5.4"/>
<path d="M1824.0,886.0 H1797.5" stroke="#000" stroke-width="5.4"/>
<path d="M1824.0,1100.3 H1797.5" stroke="#000" stroke-width="5.4"/>
<text class="sans tick" font-size="60" transform="translate(126.29,154.2) scale(0.955,1)"><tspan class="one" font-size="55.5" stroke-width="0.8" x="-36.80" textLength="42.05" lengthAdjust="spacingAndGlyphs">1</tspan><tspan x="0">00</tspan></text>
<text class="sans tick" font-size="60" transform="translate(126.68,377.4) scale(0.955,1)">90</text>
<text class="sans tick" font-size="60" transform="translate(126.68,599.4) scale(0.955,1)">80</text>
<text class="sans tick" font-size="60" transform="translate(126.68,821.4) scale(0.955,1)">70</text>
<text class="sans tick" font-size="60" transform="translate(126.68,1043.3) scale(0.955,1)">60</text>
<text class="sans tick" font-size="60" transform="translate(158.40,1223.3) scale(0.955,1)">0</text>
<text class="sans tick" font-size="60" transform="translate(345.89,1278.4) scale(0.955,1)"><tspan class="one" font-size="55.5" stroke-width="0.8" x="-36.59" textLength="42.05" lengthAdjust="spacingAndGlyphs">1</tspan><tspan x="0">00</tspan></text>
<text class="sans tick" font-size="60" transform="translate(606.77,1278.4) scale(0.955,1)">200</text>
<text class="sans tick" font-size="60" transform="translate(898.97,1278.4) scale(0.955,1)">300</text>
<text class="sans tick" font-size="60" transform="translate(1192.13,1278.4) scale(0.955,1)">400</text>
<text class="sans tick" font-size="60" transform="translate(1483.37,1278.4) scale(0.955,1)">500</text>
<text class="sans tick" font-size="60" transform="translate(1774.57,1278.4) scale(0.955,1)">600</text>
<text class="sans tick" font-size="54" transform="translate(1848.24,42.7) scale(0.98,1)">0.5</text>
<text class="sans tick" font-size="54" transform="translate(1848.24,257.0) scale(0.98,1)">0.4</text>
<text class="sans tick" font-size="54" transform="translate(1848.24,471.3) scale(0.98,1)">0.3</text>
<text class="sans tick" font-size="54" transform="translate(1848.24,685.5) scale(0.98,1)">0.2</text>
<text class="sans tick" font-size="54" transform="translate(1848.24,1114.1) scale(0.98,1)">0.0</text>
<text class="sans tick" font-size="54" transform="translate(1848.24,899.8) scale(0.98,1)"><tspan x="0">0.</tspan><tspan class="one" font-size="50.0" stroke-width="0.8" x="41.96" textLength="37.89" lengthAdjust="spacingAndGlyphs">1</tspan></text>
<text class="serif title" font-size="76" transform="translate(0,1368.3) scale(0.9991,1)"><tspan x="734.59" y="0">Temperature</tspan> <tspan x="1183.61" y="0" font-size="74.5" font-weight="normal">(</tspan><tspan x="1209.93" y="-19.5" class="sans" font-size="58" font-weight="normal">°</tspan><tspan x="1227.75" y="0.7" class="sans" font-size="78" font-weight="normal">C</tspan><tspan x="1284.20" y="0" font-size="74.5" font-weight="normal">)</tspan></text>
<text class="serif title" font-size="77.5" transform="translate(90.8,0) rotate(-90) scale(0.985,1)"><tspan x="-992.37" y="0">Mass</tspan> <tspan x="-801.90" y="0">remaining</tspan> <tspan x="-444.83" y="0" font-size="74">(</tspan><tspan x="-419.78" y="0" font-size="77">%</tspan><tspan x="-343.32" y="0" font-size="74">)</tspan></text>
<text class="serif title" font-size="77.5" transform="translate(2002.4,0) rotate(-90) scale(0.985,1)"><tspan x="-1097.35" y="0">Mass</tspan> <tspan x="-907.21" y="0">variation</tspan> <tspan x="-587.28" y="0">rate</tspan> <tspan x="-435.28" y="0" font-size="74">(</tspan><tspan x="-412.26" y="0" font-size="77">%</tspan><tspan x="-331.79" y="0" font-size="77">/</tspan><tspan x="-310.09" y="-20" class="sans" font-size="58" font-weight="normal">°</tspan><tspan x="-292.32" y="1.5" class="sans" font-size="76" font-weight="normal">C</tspan><tspan x="-236.31" y="0" font-size="74">)</tspan></text>
<path d="M350.6,509.9 H483.3" stroke="#000000" stroke-width="4.6"/>
<text class="serif" font-size="61.5" transform="translate(508.78,532.4) scale(1.0098,1)" fill="#000000">Pristine</text>
<path d="M350.6,587.9 H483.3" stroke="#0000ff" stroke-width="4.6"/>
<text class="serif" font-size="61.5" transform="translate(509.71,607.2) scale(1.0223,1)" fill="#0000ff">Stage 1</text>
<path d="M350.6,665.6 H483.3" stroke="#ff0000" stroke-width="4.6"/>
<text class="serif" font-size="61.5" transform="translate(509.71,680.4) scale(1.0223,1)" fill="#ff0000">Stage 2</text>
</g>
<g id="annotations" filter="url(#soft2)">
<path d="M1637.6,165 L1638.5,245.7 M1638.3,313.3 L1638.2,375 M1640,470 L1640.5,701.6 M1643.3,777.8 L1643.8,1175" stroke="#1a1a1a" stroke-width="2.9" fill="none"/>
<path d="M1635.9,140.6 L1639.9,140.6 Q1644.7,154.5 1646.2,171.6 L1629.6000000000001,171.6 Q1631.1000000000001,154.5 1635.9,140.6 Z" fill="#000"/>
<path d="M1636.2,400.8 L1640.2,400.8 Q1645.0,386.9 1646.5,369.8 L1629.9,369.8 Q1631.4,386.9 1636.2,400.8 Z" fill="#000"/>
<path d="M1638.0,444.7 L1642.0,444.7 Q1646.8,458.6 1648.3,475.7 L1631.7,475.7 Q1633.2,458.6 1638.0,444.7 Z" fill="#000"/>
<path d="M1641.8,1200.8 L1645.8,1200.8 Q1650.6,1186.8 1652.1,1169.8 L1635.5,1169.8 Q1637.0,1186.8 1641.8,1200.8 Z" fill="#000"/>
<path d="M862.4,321.8 L917,290.3 V306 H1224.6 L1209,321.9 L1224.6,337.8 H917 V353.8 Z" fill="#fefefe" stroke="#000" stroke-width="2.4" stroke-linejoin="miter"/>
<path d="M1693.2,914.6 L1640.4,883.6 V898.6 H1331.2 L1347.9,914.7 L1331.2,930.5 H1640.4 V945.6 Z" fill="#fefefe" stroke="#000" stroke-width="2.4" stroke-linejoin="miter"/>
<text class="sans ann" font-size="52" transform="translate(1452.38,296) scale(1.0307,1)">Epoxy resin</text>
<text class="sans ann" font-size="52" transform="translate(1463.61,767.2) scale(1.0302,1)">Glass fiber</text>
</g></svg></body></html>
